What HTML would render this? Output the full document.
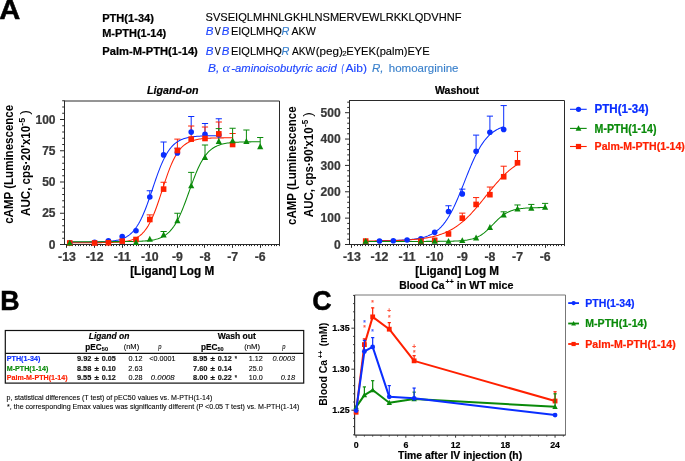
<!DOCTYPE html>
<html><head><meta charset="utf-8"><style>
html,body{margin:0;padding:0;background:#fff;}
svg{display:block;will-change:transform;}
text{font-family:"Liberation Sans", sans-serif;}
</style></head><body>
<svg width="685" height="461" viewBox="0 0 685 461">
<rect width="685" height="461" fill="#fff"/>
<g font-family="Liberation Sans, sans-serif">
<text x="-0.73" y="19.2" font-size="27.5" font-weight="bold" font-style="normal" fill="#000" text-anchor="start" textLength="21.02" lengthAdjust="spacingAndGlyphs" stroke="#000" stroke-width="0.550" >A</text>
<text x="102.18" y="21.7" font-size="11.3" font-weight="bold" font-style="normal" fill="#000" text-anchor="start" textLength="51.75" lengthAdjust="spacingAndGlyphs" stroke="#000" stroke-width="0.226" >PTH(1-34)</text>
<text x="102.19" y="37" font-size="11.3" font-weight="bold" font-style="normal" fill="#000" text-anchor="start" textLength="64.05" lengthAdjust="spacingAndGlyphs" stroke="#000" stroke-width="0.226" >M-PTH(1-14)</text>
<text x="102.37" y="54.5" font-size="11.3" font-weight="bold" font-style="normal" fill="#000" text-anchor="start" textLength="95.45" lengthAdjust="spacingAndGlyphs" stroke="#000" stroke-width="0.226" >Palm-M-PTH(1-14)</text>
<text x="205.5" y="20.6" font-size="10.6" font-weight="normal" font-style="normal" fill="#000" text-anchor="start" textLength="255.93" lengthAdjust="spacingAndGlyphs" stroke="#000" stroke-width="0.127" >SVSEIQLMHNLGKHLNSMERVEWLRKKLQDVHNF</text>
<text x="205.65" y="34.7" font-size="10.6" font-weight="normal" font-style="italic" fill="#1e46ff" text-anchor="start" textLength="7.72" lengthAdjust="spacingAndGlyphs" stroke="#1e46ff" stroke-width="0.127" >B</text>
<text x="214.75" y="34.7" font-size="10.6" font-weight="normal" font-style="normal" fill="#000" text-anchor="start" textLength="6.01" lengthAdjust="spacingAndGlyphs" stroke="#000" stroke-width="0.127" >V</text>
<text x="221.86" y="34.7" font-size="10.6" font-weight="normal" font-style="italic" fill="#1e46ff" text-anchor="start" textLength="7.61" lengthAdjust="spacingAndGlyphs" stroke="#1e46ff" stroke-width="0.127" >B</text>
<text x="230.92" y="34.7" font-size="10.6" font-weight="normal" font-style="normal" fill="#000" text-anchor="start" textLength="51.0" lengthAdjust="spacingAndGlyphs" stroke="#000" stroke-width="0.127" >EIQLMHQ</text>
<text x="281.47" y="34.7" font-size="10.6" font-weight="normal" font-style="italic" fill="#3a80cc" text-anchor="start" textLength="7.88" lengthAdjust="spacingAndGlyphs" stroke="#3a80cc" stroke-width="0.127" >R</text>
<text x="291.5" y="34.7" font-size="10.6" font-weight="normal" font-style="normal" fill="#000" text-anchor="start" textLength="24.23" lengthAdjust="spacingAndGlyphs" stroke="#000" stroke-width="0.127" >AKW</text>
<text x="205.65" y="54.5" font-size="10.6" font-weight="normal" font-style="italic" fill="#1e46ff" text-anchor="start" textLength="7.72" lengthAdjust="spacingAndGlyphs" stroke="#1e46ff" stroke-width="0.127" >B</text>
<text x="214.75" y="54.5" font-size="10.6" font-weight="normal" font-style="normal" fill="#000" text-anchor="start" textLength="6.01" lengthAdjust="spacingAndGlyphs" stroke="#000" stroke-width="0.127" >V</text>
<text x="221.86" y="54.5" font-size="10.6" font-weight="normal" font-style="italic" fill="#1e46ff" text-anchor="start" textLength="7.61" lengthAdjust="spacingAndGlyphs" stroke="#1e46ff" stroke-width="0.127" >B</text>
<text x="230.92" y="54.5" font-size="10.6" font-weight="normal" font-style="normal" fill="#000" text-anchor="start" textLength="51.0" lengthAdjust="spacingAndGlyphs" stroke="#000" stroke-width="0.127" >EIQLMHQ</text>
<text x="281.47" y="54.5" font-size="10.6" font-weight="normal" font-style="italic" fill="#3a80cc" text-anchor="start" textLength="7.88" lengthAdjust="spacingAndGlyphs" stroke="#3a80cc" stroke-width="0.127" >R</text>
<text x="291.9" y="54.5" font-size="10.6" font-weight="normal" font-style="normal" fill="#000" text-anchor="start" textLength="23.23" lengthAdjust="spacingAndGlyphs" stroke="#000" stroke-width="0.127" >AKW</text>
<text x="315.7" y="54.5" font-size="10.6" font-weight="normal" font-style="normal" fill="#000" text-anchor="start" textLength="27.25" lengthAdjust="spacingAndGlyphs" stroke="#000" stroke-width="0.127" >(peg)</text>
<text x="342.2" y="56.3" font-size="7" font-weight="normal" font-style="normal" fill="#000" text-anchor="start" textLength="4.4" lengthAdjust="spacingAndGlyphs" stroke="#000" stroke-width="0.084" >2</text>
<text x="346.31" y="54.5" font-size="10.6" font-weight="normal" font-style="normal" fill="#000" text-anchor="start" textLength="83.37" lengthAdjust="spacingAndGlyphs" stroke="#000" stroke-width="0.127" >EYEK(palm)EYE</text>
<text x="208.14" y="71.7" font-size="10.6" font-weight="normal" font-style="italic" fill="#1e46ff" text-anchor="start" textLength="11.29" lengthAdjust="spacingAndGlyphs" stroke="#1e46ff" stroke-width="0.127" >B,</text>
<text x="222.6" y="71.7" font-size="11.5" font-style="italic" style="font-family:'Liberation Serif',serif" fill="#1e46ff" textLength="7.6" lengthAdjust="spacingAndGlyphs">α</text>
<text x="231.34" y="71.7" font-size="10.6" font-weight="normal" font-style="italic" fill="#1e46ff" text-anchor="start" textLength="105.36" lengthAdjust="spacingAndGlyphs" stroke="#1e46ff" stroke-width="0.127" >-aminoisobutyric acid</text>
<text x="341.4" y="71.7" font-size="10.6" font-weight="normal" font-style="italic" fill="#1e46ff" text-anchor="start" textLength="2.25" lengthAdjust="spacingAndGlyphs" stroke="#1e46ff" stroke-width="0.127" >(</text>
<text x="345.6" y="71.7" font-size="10.6" font-weight="normal" font-style="normal" fill="#1e46ff" text-anchor="start" textLength="21.36" lengthAdjust="spacingAndGlyphs" stroke="#1e46ff" stroke-width="0.127" >Aib)</text>
<text x="371.95" y="71.7" font-size="10.6" font-weight="normal" font-style="italic" fill="#3a80cc" text-anchor="start" textLength="11.53" lengthAdjust="spacingAndGlyphs" stroke="#3a80cc" stroke-width="0.127" >R,</text>
<text x="388.79" y="71.7" font-size="10.6" font-weight="normal" font-style="normal" fill="#3a80cc" text-anchor="start" textLength="69.72" lengthAdjust="spacingAndGlyphs" stroke="#3a80cc" stroke-width="0.127" >homoarginine</text>
<line x1="64.5" y1="101" x2="279.5" y2="101" stroke="#2a2a2a" stroke-width="1"/>
<line x1="279.5" y1="101" x2="279.5" y2="244.5" stroke="#2a2a2a" stroke-width="1"/>
<line x1="64.5" y1="100.5" x2="64.5" y2="244.5" stroke="#2a2a2a" stroke-width="1"/>
<line x1="60" y1="244.5" x2="280" y2="244.5" stroke="#2a2a2a" stroke-width="1"/>
<line x1="60" y1="244.5" x2="64.5" y2="244.5" stroke="#2a2a2a" stroke-width="1"/>
<text x="55.5" y="248.7" font-size="12" font-weight="bold" font-style="normal" fill="#383838" text-anchor="end" stroke="#383838" stroke-width="0.240" >0</text>
<line x1="62.2" y1="238.25" x2="64.5" y2="238.25" stroke="#2a2a2a" stroke-width="1"/>
<line x1="62.2" y1="232" x2="64.5" y2="232" stroke="#2a2a2a" stroke-width="1"/>
<line x1="62.2" y1="225.75" x2="64.5" y2="225.75" stroke="#2a2a2a" stroke-width="1"/>
<line x1="62.2" y1="219.5" x2="64.5" y2="219.5" stroke="#2a2a2a" stroke-width="1"/>
<line x1="60" y1="213.25" x2="64.5" y2="213.25" stroke="#2a2a2a" stroke-width="1"/>
<text x="55.5" y="217.45" font-size="12" font-weight="bold" font-style="normal" fill="#383838" text-anchor="end" stroke="#383838" stroke-width="0.240" >25</text>
<line x1="62.2" y1="207" x2="64.5" y2="207" stroke="#2a2a2a" stroke-width="1"/>
<line x1="62.2" y1="200.75" x2="64.5" y2="200.75" stroke="#2a2a2a" stroke-width="1"/>
<line x1="62.2" y1="194.5" x2="64.5" y2="194.5" stroke="#2a2a2a" stroke-width="1"/>
<line x1="62.2" y1="188.25" x2="64.5" y2="188.25" stroke="#2a2a2a" stroke-width="1"/>
<line x1="60" y1="182" x2="64.5" y2="182" stroke="#2a2a2a" stroke-width="1"/>
<text x="55.5" y="186.2" font-size="12" font-weight="bold" font-style="normal" fill="#383838" text-anchor="end" stroke="#383838" stroke-width="0.240" >50</text>
<line x1="62.2" y1="175.75" x2="64.5" y2="175.75" stroke="#2a2a2a" stroke-width="1"/>
<line x1="62.2" y1="169.5" x2="64.5" y2="169.5" stroke="#2a2a2a" stroke-width="1"/>
<line x1="62.2" y1="163.25" x2="64.5" y2="163.25" stroke="#2a2a2a" stroke-width="1"/>
<line x1="62.2" y1="157" x2="64.5" y2="157" stroke="#2a2a2a" stroke-width="1"/>
<line x1="60" y1="150.75" x2="64.5" y2="150.75" stroke="#2a2a2a" stroke-width="1"/>
<text x="55.5" y="154.95" font-size="12" font-weight="bold" font-style="normal" fill="#383838" text-anchor="end" stroke="#383838" stroke-width="0.240" >75</text>
<line x1="62.2" y1="144.5" x2="64.5" y2="144.5" stroke="#2a2a2a" stroke-width="1"/>
<line x1="62.2" y1="138.25" x2="64.5" y2="138.25" stroke="#2a2a2a" stroke-width="1"/>
<line x1="62.2" y1="132" x2="64.5" y2="132" stroke="#2a2a2a" stroke-width="1"/>
<line x1="62.2" y1="125.75" x2="64.5" y2="125.75" stroke="#2a2a2a" stroke-width="1"/>
<line x1="60" y1="119.5" x2="64.5" y2="119.5" stroke="#2a2a2a" stroke-width="1"/>
<text x="55.5" y="123.7" font-size="12" font-weight="bold" font-style="normal" fill="#383838" text-anchor="end" stroke="#383838" stroke-width="0.240" >100</text>
<line x1="62.2" y1="113.25" x2="64.5" y2="113.25" stroke="#2a2a2a" stroke-width="1"/>
<line x1="62.2" y1="107" x2="64.5" y2="107" stroke="#2a2a2a" stroke-width="1"/>
<line x1="62.2" y1="100.75" x2="64.5" y2="100.75" stroke="#2a2a2a" stroke-width="1"/>
<line x1="66.5" y1="244.5" x2="66.5" y2="247.8" stroke="#2a2a2a" stroke-width="1"/>
<text x="67" y="260.9" font-size="12.3" font-weight="bold" font-style="normal" fill="#383838" text-anchor="middle" stroke="#383838" stroke-width="0.246" >-13</text>
<line x1="69.5" y1="244.5" x2="69.5" y2="246.1" stroke="#2a2a2a" stroke-width="1"/>
<line x1="72.5" y1="244.5" x2="72.5" y2="246.1" stroke="#2a2a2a" stroke-width="1"/>
<line x1="75.5" y1="244.5" x2="75.5" y2="246.1" stroke="#2a2a2a" stroke-width="1"/>
<line x1="78.5" y1="244.5" x2="78.5" y2="246.1" stroke="#2a2a2a" stroke-width="1"/>
<line x1="80.5" y1="244.5" x2="80.5" y2="246.1" stroke="#2a2a2a" stroke-width="1"/>
<line x1="83.5" y1="244.5" x2="83.5" y2="246.1" stroke="#2a2a2a" stroke-width="1"/>
<line x1="86.5" y1="244.5" x2="86.5" y2="246.1" stroke="#2a2a2a" stroke-width="1"/>
<line x1="89.5" y1="244.5" x2="89.5" y2="246.1" stroke="#2a2a2a" stroke-width="1"/>
<line x1="91.5" y1="244.5" x2="91.5" y2="246.1" stroke="#2a2a2a" stroke-width="1"/>
<line x1="94.5" y1="244.5" x2="94.5" y2="247.8" stroke="#2a2a2a" stroke-width="1"/>
<text x="94.6" y="260.9" font-size="12.3" font-weight="bold" font-style="normal" fill="#383838" text-anchor="middle" stroke="#383838" stroke-width="0.246" >-12</text>
<line x1="97.5" y1="244.5" x2="97.5" y2="246.1" stroke="#2a2a2a" stroke-width="1"/>
<line x1="100.5" y1="244.5" x2="100.5" y2="246.1" stroke="#2a2a2a" stroke-width="1"/>
<line x1="102.5" y1="244.5" x2="102.5" y2="246.1" stroke="#2a2a2a" stroke-width="1"/>
<line x1="105.5" y1="244.5" x2="105.5" y2="246.1" stroke="#2a2a2a" stroke-width="1"/>
<line x1="108.5" y1="244.5" x2="108.5" y2="246.1" stroke="#2a2a2a" stroke-width="1"/>
<line x1="111.5" y1="244.5" x2="111.5" y2="246.1" stroke="#2a2a2a" stroke-width="1"/>
<line x1="113.5" y1="244.5" x2="113.5" y2="246.1" stroke="#2a2a2a" stroke-width="1"/>
<line x1="116.5" y1="244.5" x2="116.5" y2="246.1" stroke="#2a2a2a" stroke-width="1"/>
<line x1="119.5" y1="244.5" x2="119.5" y2="246.1" stroke="#2a2a2a" stroke-width="1"/>
<line x1="122.5" y1="244.5" x2="122.5" y2="247.8" stroke="#2a2a2a" stroke-width="1"/>
<text x="122.2" y="260.9" font-size="12.3" font-weight="bold" font-style="normal" fill="#383838" text-anchor="middle" stroke="#383838" stroke-width="0.246" >-11</text>
<line x1="124.5" y1="244.5" x2="124.5" y2="246.1" stroke="#2a2a2a" stroke-width="1"/>
<line x1="127.5" y1="244.5" x2="127.5" y2="246.1" stroke="#2a2a2a" stroke-width="1"/>
<line x1="130.5" y1="244.5" x2="130.5" y2="246.1" stroke="#2a2a2a" stroke-width="1"/>
<line x1="133.5" y1="244.5" x2="133.5" y2="246.1" stroke="#2a2a2a" stroke-width="1"/>
<line x1="136.5" y1="244.5" x2="136.5" y2="246.1" stroke="#2a2a2a" stroke-width="1"/>
<line x1="138.5" y1="244.5" x2="138.5" y2="246.1" stroke="#2a2a2a" stroke-width="1"/>
<line x1="141.5" y1="244.5" x2="141.5" y2="246.1" stroke="#2a2a2a" stroke-width="1"/>
<line x1="144.5" y1="244.5" x2="144.5" y2="246.1" stroke="#2a2a2a" stroke-width="1"/>
<line x1="147.5" y1="244.5" x2="147.5" y2="246.1" stroke="#2a2a2a" stroke-width="1"/>
<line x1="149.5" y1="244.5" x2="149.5" y2="247.8" stroke="#2a2a2a" stroke-width="1"/>
<text x="149.8" y="260.9" font-size="12.3" font-weight="bold" font-style="normal" fill="#383838" text-anchor="middle" stroke="#383838" stroke-width="0.246" >-10</text>
<line x1="152.5" y1="244.5" x2="152.5" y2="246.1" stroke="#2a2a2a" stroke-width="1"/>
<line x1="155.5" y1="244.5" x2="155.5" y2="246.1" stroke="#2a2a2a" stroke-width="1"/>
<line x1="158.5" y1="244.5" x2="158.5" y2="246.1" stroke="#2a2a2a" stroke-width="1"/>
<line x1="160.5" y1="244.5" x2="160.5" y2="246.1" stroke="#2a2a2a" stroke-width="1"/>
<line x1="163.5" y1="244.5" x2="163.5" y2="246.1" stroke="#2a2a2a" stroke-width="1"/>
<line x1="166.5" y1="244.5" x2="166.5" y2="246.1" stroke="#2a2a2a" stroke-width="1"/>
<line x1="169.5" y1="244.5" x2="169.5" y2="246.1" stroke="#2a2a2a" stroke-width="1"/>
<line x1="171.5" y1="244.5" x2="171.5" y2="246.1" stroke="#2a2a2a" stroke-width="1"/>
<line x1="174.5" y1="244.5" x2="174.5" y2="246.1" stroke="#2a2a2a" stroke-width="1"/>
<line x1="177.5" y1="244.5" x2="177.5" y2="247.8" stroke="#2a2a2a" stroke-width="1"/>
<text x="177.4" y="260.9" font-size="12.3" font-weight="bold" font-style="normal" fill="#383838" text-anchor="middle" stroke="#383838" stroke-width="0.246" >-9</text>
<line x1="180.5" y1="244.5" x2="180.5" y2="246.1" stroke="#2a2a2a" stroke-width="1"/>
<line x1="182.5" y1="244.5" x2="182.5" y2="246.1" stroke="#2a2a2a" stroke-width="1"/>
<line x1="185.5" y1="244.5" x2="185.5" y2="246.1" stroke="#2a2a2a" stroke-width="1"/>
<line x1="188.5" y1="244.5" x2="188.5" y2="246.1" stroke="#2a2a2a" stroke-width="1"/>
<line x1="191.5" y1="244.5" x2="191.5" y2="246.1" stroke="#2a2a2a" stroke-width="1"/>
<line x1="193.5" y1="244.5" x2="193.5" y2="246.1" stroke="#2a2a2a" stroke-width="1"/>
<line x1="196.5" y1="244.5" x2="196.5" y2="246.1" stroke="#2a2a2a" stroke-width="1"/>
<line x1="199.5" y1="244.5" x2="199.5" y2="246.1" stroke="#2a2a2a" stroke-width="1"/>
<line x1="202.5" y1="244.5" x2="202.5" y2="246.1" stroke="#2a2a2a" stroke-width="1"/>
<line x1="204.5" y1="244.5" x2="204.5" y2="247.8" stroke="#2a2a2a" stroke-width="1"/>
<text x="205" y="260.9" font-size="12.3" font-weight="bold" font-style="normal" fill="#383838" text-anchor="middle" stroke="#383838" stroke-width="0.246" >-8</text>
<line x1="207.5" y1="244.5" x2="207.5" y2="246.1" stroke="#2a2a2a" stroke-width="1"/>
<line x1="210.5" y1="244.5" x2="210.5" y2="246.1" stroke="#2a2a2a" stroke-width="1"/>
<line x1="213.5" y1="244.5" x2="213.5" y2="246.1" stroke="#2a2a2a" stroke-width="1"/>
<line x1="216.5" y1="244.5" x2="216.5" y2="246.1" stroke="#2a2a2a" stroke-width="1"/>
<line x1="218.5" y1="244.5" x2="218.5" y2="246.1" stroke="#2a2a2a" stroke-width="1"/>
<line x1="221.5" y1="244.5" x2="221.5" y2="246.1" stroke="#2a2a2a" stroke-width="1"/>
<line x1="224.5" y1="244.5" x2="224.5" y2="246.1" stroke="#2a2a2a" stroke-width="1"/>
<line x1="227.5" y1="244.5" x2="227.5" y2="246.1" stroke="#2a2a2a" stroke-width="1"/>
<line x1="229.5" y1="244.5" x2="229.5" y2="246.1" stroke="#2a2a2a" stroke-width="1"/>
<line x1="232.5" y1="244.5" x2="232.5" y2="247.8" stroke="#2a2a2a" stroke-width="1"/>
<text x="232.6" y="260.9" font-size="12.3" font-weight="bold" font-style="normal" fill="#383838" text-anchor="middle" stroke="#383838" stroke-width="0.246" >-7</text>
<line x1="235.5" y1="244.5" x2="235.5" y2="246.1" stroke="#2a2a2a" stroke-width="1"/>
<line x1="238.5" y1="244.5" x2="238.5" y2="246.1" stroke="#2a2a2a" stroke-width="1"/>
<line x1="240.5" y1="244.5" x2="240.5" y2="246.1" stroke="#2a2a2a" stroke-width="1"/>
<line x1="243.5" y1="244.5" x2="243.5" y2="246.1" stroke="#2a2a2a" stroke-width="1"/>
<line x1="246.5" y1="244.5" x2="246.5" y2="246.1" stroke="#2a2a2a" stroke-width="1"/>
<line x1="249.5" y1="244.5" x2="249.5" y2="246.1" stroke="#2a2a2a" stroke-width="1"/>
<line x1="251.5" y1="244.5" x2="251.5" y2="246.1" stroke="#2a2a2a" stroke-width="1"/>
<line x1="254.5" y1="244.5" x2="254.5" y2="246.1" stroke="#2a2a2a" stroke-width="1"/>
<line x1="257.5" y1="244.5" x2="257.5" y2="246.1" stroke="#2a2a2a" stroke-width="1"/>
<line x1="260.5" y1="244.5" x2="260.5" y2="247.8" stroke="#2a2a2a" stroke-width="1"/>
<text x="260.2" y="260.9" font-size="12.3" font-weight="bold" font-style="normal" fill="#383838" text-anchor="middle" stroke="#383838" stroke-width="0.246" >-6</text>
<line x1="262.5" y1="244.5" x2="262.5" y2="246.1" stroke="#2a2a2a" stroke-width="1"/>
<line x1="265.5" y1="244.5" x2="265.5" y2="246.1" stroke="#2a2a2a" stroke-width="1"/>
<line x1="268.5" y1="244.5" x2="268.5" y2="246.1" stroke="#2a2a2a" stroke-width="1"/>
<line x1="271.5" y1="244.5" x2="271.5" y2="246.1" stroke="#2a2a2a" stroke-width="1"/>
<line x1="274.5" y1="244.5" x2="274.5" y2="246.1" stroke="#2a2a2a" stroke-width="1"/>
<line x1="276.5" y1="244.5" x2="276.5" y2="246.1" stroke="#2a2a2a" stroke-width="1"/>
<line x1="279.5" y1="244.5" x2="279.5" y2="246.1" stroke="#2a2a2a" stroke-width="1"/>
<text x="130.15" y="274.6" font-size="12.3" font-weight="bold" font-style="normal" fill="#000" text-anchor="start" textLength="84.06" lengthAdjust="spacingAndGlyphs" stroke="#000" stroke-width="0.246" >[Ligand] Log M</text>
<text x="146.99" y="93.5" font-size="11.2" font-weight="bold" font-style="italic" fill="#000" text-anchor="start" textLength="51.46" lengthAdjust="spacingAndGlyphs" stroke="#000" stroke-width="0.224" >Ligand-on</text>
<text transform="translate(13,223.4) rotate(-90)" x="-0.46" y="0" font-size="12.3" font-weight="bold" font-style="normal" fill="#000" textLength="119.05" lengthAdjust="spacingAndGlyphs">cAMP (Luminescence</text>
<text transform="translate(29.9,215.6) rotate(-90)" x="-0.29" y="0" font-size="12.3" font-weight="bold" font-style="normal" fill="#000" textLength="90.08" lengthAdjust="spacingAndGlyphs">AUC, cps·20&#x27;x10</text>
<text transform="translate(24.7,125.4) rotate(-90)" x="-0.36" y="0" font-size="8.5" font-weight="bold" font-style="normal" fill="#000" textLength="7.98" lengthAdjust="spacingAndGlyphs">-5</text>
<text transform="translate(29.3,114.7) rotate(-90)" x="-0.07" y="0" font-size="12.3" font-weight="normal" font-style="normal" fill="#000" textLength="4.65" lengthAdjust="spacingAndGlyphs">)</text>
<line x1="149.8" y1="197" x2="149.8" y2="190.75" stroke="#0a2eff" stroke-width="1"/>
<line x1="146.7" y1="190.75" x2="152.9" y2="190.75" stroke="#0a2eff" stroke-width="1"/>
<line x1="163.6" y1="154.88" x2="163.6" y2="142" stroke="#0a2eff" stroke-width="1"/>
<line x1="160.5" y1="142" x2="166.7" y2="142" stroke="#0a2eff" stroke-width="1"/>
<line x1="177.4" y1="152.88" x2="177.4" y2="148.25" stroke="#0a2eff" stroke-width="1"/>
<line x1="174.3" y1="148.25" x2="180.5" y2="148.25" stroke="#0a2eff" stroke-width="1"/>
<line x1="191.2" y1="132.12" x2="191.2" y2="116.5" stroke="#0a2eff" stroke-width="1"/>
<line x1="188.1" y1="116.5" x2="194.3" y2="116.5" stroke="#0a2eff" stroke-width="1"/>
<line x1="205" y1="134.25" x2="205" y2="123.5" stroke="#0a2eff" stroke-width="1"/>
<line x1="201.9" y1="123.5" x2="208.1" y2="123.5" stroke="#0a2eff" stroke-width="1"/>
<line x1="218.8" y1="135" x2="218.8" y2="118.75" stroke="#0a2eff" stroke-width="1"/>
<line x1="215.7" y1="118.75" x2="221.9" y2="118.75" stroke="#0a2eff" stroke-width="1"/>
<line x1="149.8" y1="219.5" x2="149.8" y2="214.88" stroke="#ff2000" stroke-width="1"/>
<line x1="146.7" y1="214.88" x2="152.9" y2="214.88" stroke="#ff2000" stroke-width="1"/>
<line x1="163.6" y1="189.12" x2="163.6" y2="182.25" stroke="#ff2000" stroke-width="1"/>
<line x1="160.5" y1="182.25" x2="166.7" y2="182.25" stroke="#ff2000" stroke-width="1"/>
<line x1="177.4" y1="150.5" x2="177.4" y2="139.12" stroke="#ff2000" stroke-width="1"/>
<line x1="174.3" y1="139.12" x2="180.5" y2="139.12" stroke="#ff2000" stroke-width="1"/>
<line x1="191.2" y1="139.12" x2="191.2" y2="126" stroke="#ff2000" stroke-width="1"/>
<line x1="188.1" y1="126" x2="194.3" y2="126" stroke="#ff2000" stroke-width="1"/>
<line x1="205" y1="138.5" x2="205" y2="127" stroke="#ff2000" stroke-width="1"/>
<line x1="201.9" y1="127" x2="208.1" y2="127" stroke="#ff2000" stroke-width="1"/>
<line x1="218.8" y1="133.88" x2="218.8" y2="122" stroke="#ff2000" stroke-width="1"/>
<line x1="215.7" y1="122" x2="221.9" y2="122" stroke="#ff2000" stroke-width="1"/>
<line x1="232.6" y1="144.5" x2="232.6" y2="133.5" stroke="#ff2000" stroke-width="1"/>
<line x1="229.5" y1="133.5" x2="235.7" y2="133.5" stroke="#ff2000" stroke-width="1"/>
<line x1="163.6" y1="234.88" x2="163.6" y2="231.5" stroke="#0a8a0a" stroke-width="1"/>
<line x1="160.5" y1="231.5" x2="166.7" y2="231.5" stroke="#0a8a0a" stroke-width="1"/>
<line x1="177.4" y1="220.75" x2="177.4" y2="213.25" stroke="#0a8a0a" stroke-width="1"/>
<line x1="174.3" y1="213.25" x2="180.5" y2="213.25" stroke="#0a8a0a" stroke-width="1"/>
<line x1="191.2" y1="185.75" x2="191.2" y2="172.38" stroke="#0a8a0a" stroke-width="1"/>
<line x1="188.1" y1="172.38" x2="194.3" y2="172.38" stroke="#0a8a0a" stroke-width="1"/>
<line x1="205" y1="157.38" x2="205" y2="145" stroke="#0a8a0a" stroke-width="1"/>
<line x1="201.9" y1="145" x2="208.1" y2="145" stroke="#0a8a0a" stroke-width="1"/>
<line x1="218.8" y1="141.38" x2="218.8" y2="128.62" stroke="#0a8a0a" stroke-width="1"/>
<line x1="215.7" y1="128.62" x2="221.9" y2="128.62" stroke="#0a8a0a" stroke-width="1"/>
<line x1="232.6" y1="140.75" x2="232.6" y2="128.25" stroke="#0a8a0a" stroke-width="1"/>
<line x1="229.5" y1="128.25" x2="235.7" y2="128.25" stroke="#0a8a0a" stroke-width="1"/>
<line x1="246.4" y1="141.38" x2="246.4" y2="130" stroke="#0a8a0a" stroke-width="1"/>
<line x1="243.3" y1="130" x2="249.5" y2="130" stroke="#0a8a0a" stroke-width="1"/>
<line x1="260.2" y1="146.62" x2="260.2" y2="137.5" stroke="#0a8a0a" stroke-width="1"/>
<line x1="257.1" y1="137.5" x2="263.3" y2="137.5" stroke="#0a8a0a" stroke-width="1"/>
<polyline points="67.00,242.23 67.95,242.22 68.91,242.22 69.86,242.22 70.82,242.22 71.77,242.22 72.73,242.22 73.68,242.22 74.64,242.22 75.59,242.21 76.55,242.21 77.50,242.21 78.46,242.21 79.41,242.20 80.37,242.20 81.32,242.20 82.28,242.19 83.23,242.19 84.18,242.18 85.14,242.18 86.09,242.17 87.05,242.16 88.00,242.16 88.96,242.15 89.91,242.14 90.87,242.13 91.82,242.11 92.78,242.10 93.73,242.09 94.69,242.07 95.64,242.05 96.60,242.03 97.55,242.01 98.51,241.98 99.46,241.95 100.42,241.92 101.37,241.89 102.32,241.85 103.28,241.81 104.23,241.76 105.19,241.71 106.14,241.65 107.10,241.58 108.05,241.51 109.01,241.43 109.96,241.34 110.92,241.24 111.87,241.12 112.83,241.00 113.78,240.86 114.74,240.71 115.69,240.54 116.65,240.35 117.60,240.15 118.55,239.91 119.51,239.66 120.46,239.38 121.42,239.06 122.37,238.72 123.33,238.34 124.28,237.91 125.24,237.45 126.19,236.93 127.15,236.37 128.10,235.75 129.06,235.06 130.01,234.31 130.97,233.49 131.92,232.60 132.88,231.62 133.83,230.55 134.78,229.39 135.74,228.13 136.69,226.77 137.65,225.30 138.60,223.72 139.56,222.03 140.51,220.22 141.47,218.29 142.42,216.24 143.38,214.08 144.33,211.81 145.29,209.43 146.24,206.96 147.20,204.39 148.15,201.74 149.11,199.02 150.06,196.24 151.02,193.43 151.97,190.59 152.92,187.74 153.88,184.89 154.83,182.07 155.79,179.29 156.74,176.56 157.70,173.90 158.65,171.31 159.61,168.82 160.56,166.43 161.52,164.14 162.47,161.96 163.43,159.89 164.38,157.95 165.34,156.12 166.29,154.40 167.25,152.80 168.20,151.32 169.15,149.94 170.11,148.66 171.06,147.49 172.02,146.40 172.97,145.41 173.93,144.50 174.88,143.67 175.84,142.90 176.79,142.21 177.75,141.58 178.70,141.00 179.66,140.48 180.61,140.01 181.57,139.58 182.52,139.19 183.48,138.84 184.43,138.52 185.38,138.23 186.34,137.97 187.29,137.74 188.25,137.53 189.20,137.34 190.16,137.16 191.11,137.01 192.07,136.87 193.02,136.74 193.98,136.63 194.93,136.53 195.89,136.44 196.84,136.35 197.80,136.28 198.75,136.21 199.71,136.15 200.66,136.10 201.62,136.05 202.57,136.00 203.52,135.97 204.48,135.93 205.43,135.90 206.39,135.87 207.34,135.84 208.30,135.82 209.25,135.80 210.21,135.78 211.16,135.76 212.12,135.75 213.07,135.74 214.03,135.72 214.98,135.71 215.94,135.70 216.89,135.69 217.85,135.69 218.80,135.68" fill="none" stroke="#0a2eff" stroke-width="1.05"/>
<polyline points="67.00,242.69 68.04,242.69 69.08,242.69 70.12,242.69 71.17,242.69 72.21,242.69 73.25,242.69 74.29,242.68 75.33,242.68 76.37,242.68 77.42,242.68 78.46,242.68 79.50,242.68 80.54,242.68 81.58,242.68 82.62,242.68 83.66,242.68 84.71,242.68 85.75,242.68 86.79,242.67 87.83,242.67 88.87,242.67 89.91,242.67 90.95,242.66 92.00,242.66 93.04,242.66 94.08,242.65 95.12,242.65 96.16,242.64 97.20,242.64 98.25,242.63 99.29,242.62 100.33,242.62 101.37,242.61 102.41,242.60 103.45,242.58 104.49,242.57 105.54,242.56 106.58,242.54 107.62,242.52 108.66,242.50 109.70,242.47 110.74,242.44 111.78,242.41 112.83,242.37 113.87,242.33 114.91,242.29 115.95,242.24 116.99,242.18 118.03,242.11 119.08,242.04 120.12,241.95 121.16,241.86 122.20,241.75 123.24,241.63 124.28,241.49 125.32,241.34 126.37,241.16 127.41,240.97 128.45,240.75 129.49,240.50 130.53,240.22 131.57,239.91 132.62,239.55 133.66,239.16 134.70,238.72 135.74,238.22 136.78,237.67 137.82,237.05 138.86,236.35 139.91,235.58 140.95,234.73 141.99,233.78 143.03,232.73 144.07,231.56 145.11,230.28 146.15,228.88 147.20,227.34 148.24,225.67 149.28,223.85 150.32,221.88 151.36,219.75 152.40,217.48 153.45,215.06 154.49,212.49 155.53,209.79 156.57,206.96 157.61,204.02 158.65,200.98 159.69,197.87 160.74,194.70 161.78,191.49 162.82,188.28 163.86,185.08 164.90,181.92 165.94,178.82 166.98,175.80 168.03,172.88 169.07,170.08 170.11,167.40 171.15,164.87 172.19,162.48 173.23,160.24 174.28,158.15 175.32,156.21 176.36,154.42 177.40,152.78 178.44,151.27 179.48,149.89 180.52,148.64 181.57,147.50 182.61,146.47 183.65,145.55 184.69,144.71 185.73,143.96 186.77,143.28 187.82,142.68 188.86,142.13 189.90,141.65 190.94,141.22 191.98,140.83 193.02,140.49 194.06,140.19 195.11,139.91 196.15,139.67 197.19,139.46 198.23,139.27 199.27,139.10 200.31,138.95 201.35,138.81 202.40,138.70 203.44,138.59 204.48,138.50 205.52,138.42 206.56,138.34 207.60,138.28 208.65,138.22 209.69,138.17 210.73,138.12 211.77,138.09 212.81,138.05 213.85,138.02 214.89,137.99 215.94,137.97 216.98,137.95 218.02,137.93 219.06,137.91 220.10,137.89 221.14,137.88 222.18,137.87 223.23,137.86 224.27,137.85 225.31,137.84 226.35,137.83 227.39,137.83 228.43,137.82 229.48,137.82 230.52,137.81 231.56,137.81 232.60,137.81" fill="none" stroke="#ff2000" stroke-width="1.05"/>
<polyline points="67.00,241.66 68.22,241.66 69.43,241.66 70.65,241.66 71.86,241.66 73.08,241.66 74.29,241.66 75.51,241.66 76.72,241.66 77.94,241.66 79.15,241.66 80.37,241.66 81.58,241.66 82.80,241.66 84.01,241.66 85.23,241.66 86.44,241.66 87.66,241.66 88.87,241.66 90.09,241.66 91.30,241.66 92.52,241.66 93.73,241.66 94.95,241.66 96.16,241.66 97.38,241.66 98.59,241.66 99.81,241.66 101.02,241.66 102.24,241.66 103.45,241.66 104.67,241.66 105.88,241.65 107.10,241.65 108.31,241.65 109.53,241.65 110.74,241.65 111.96,241.65 113.17,241.64 114.39,241.64 115.60,241.64 116.82,241.63 118.03,241.63 119.25,241.62 120.46,241.62 121.68,241.61 122.89,241.60 124.11,241.60 125.32,241.59 126.54,241.57 127.75,241.56 128.97,241.55 130.18,241.53 131.40,241.51 132.62,241.49 133.83,241.46 135.05,241.43 136.26,241.40 137.48,241.36 138.69,241.32 139.91,241.26 141.12,241.21 142.34,241.14 143.55,241.06 144.77,240.98 145.98,240.88 147.20,240.76 148.41,240.63 149.63,240.48 150.84,240.31 152.06,240.12 153.27,239.90 154.49,239.65 155.70,239.36 156.92,239.03 158.13,238.66 159.35,238.23 160.56,237.75 161.78,237.20 162.99,236.59 164.21,235.89 165.42,235.10 166.64,234.21 167.85,233.21 169.07,232.09 170.28,230.85 171.50,229.46 172.71,227.92 173.93,226.22 175.14,224.35 176.36,222.31 177.57,220.09 178.79,217.70 180.00,215.12 181.22,212.38 182.43,209.48 183.65,206.43 184.86,203.26 186.08,199.99 187.29,196.64 188.51,193.25 189.72,189.84 190.94,186.45 192.15,183.11 193.37,179.85 194.58,176.69 195.80,173.66 197.02,170.77 198.23,168.04 199.45,165.49 200.66,163.11 201.88,160.91 203.09,158.88 204.31,157.03 205.52,155.35 206.74,153.82 207.95,152.45 209.17,151.22 210.38,150.11 211.60,149.12 212.81,148.25 214.03,147.47 215.24,146.77 216.46,146.16 217.67,145.62 218.89,145.15 220.10,144.73 221.32,144.36 222.53,144.03 223.75,143.75 224.96,143.50 226.18,143.28 227.39,143.09 228.61,142.92 229.82,142.78 231.04,142.65 232.25,142.53 233.47,142.44 234.68,142.35 235.90,142.28 237.11,142.21 238.33,142.15 239.54,142.10 240.76,142.06 241.97,142.02 243.19,141.99 244.40,141.96 245.62,141.93 246.83,141.91 248.05,141.89 249.26,141.87 250.48,141.86 251.69,141.85 252.91,141.84 254.12,141.83 255.34,141.82 256.55,141.81 257.77,141.80 258.98,141.80 260.20,141.79" fill="none" stroke="#0a8a0a" stroke-width="1.05"/>
<circle cx="69.76" cy="242.75" r="2.8" fill="#0a2eff"/>
<circle cx="94.6" cy="242.38" r="2.8" fill="#0a2eff"/>
<circle cx="108.4" cy="240.75" r="2.8" fill="#0a2eff"/>
<circle cx="122.2" cy="236.5" r="2.8" fill="#0a2eff"/>
<circle cx="136" cy="230.75" r="2.8" fill="#0a2eff"/>
<circle cx="149.8" cy="197" r="2.8" fill="#0a2eff"/>
<circle cx="163.6" cy="154.88" r="2.8" fill="#0a2eff"/>
<circle cx="177.4" cy="152.88" r="2.8" fill="#0a2eff"/>
<circle cx="191.2" cy="132.12" r="2.8" fill="#0a2eff"/>
<circle cx="205" cy="134.25" r="2.8" fill="#0a2eff"/>
<circle cx="218.8" cy="135" r="2.8" fill="#0a2eff"/>
<rect x="66.96" y="240.2" width="5.6" height="5.6" fill="#ff2000"/>
<rect x="91.8" y="240.2" width="5.6" height="5.6" fill="#ff2000"/>
<rect x="105.6" y="239.95" width="5.6" height="5.6" fill="#ff2000"/>
<rect x="119.4" y="238.32" width="5.6" height="5.6" fill="#ff2000"/>
<rect x="133.2" y="236.7" width="5.6" height="5.6" fill="#ff2000"/>
<rect x="147" y="216.7" width="5.6" height="5.6" fill="#ff2000"/>
<rect x="160.8" y="186.32" width="5.6" height="5.6" fill="#ff2000"/>
<rect x="174.6" y="147.7" width="5.6" height="5.6" fill="#ff2000"/>
<rect x="188.4" y="136.32" width="5.6" height="5.6" fill="#ff2000"/>
<rect x="202.2" y="135.7" width="5.6" height="5.6" fill="#ff2000"/>
<rect x="216" y="131.07" width="5.6" height="5.6" fill="#ff2000"/>
<rect x="229.8" y="141.7" width="5.6" height="5.6" fill="#ff2000"/>
<path d="M69.76,239.64 L72.86,245.52 L66.66,245.52 Z" fill="#0a8a0a"/>
<path d="M136,239.01 L139.1,244.9 L132.9,244.9 Z" fill="#0a8a0a"/>
<path d="M149.8,235.76 L152.9,241.65 L146.7,241.65 Z" fill="#0a8a0a"/>
<path d="M163.6,231.51 L166.7,237.4 L160.5,237.4 Z" fill="#0a8a0a"/>
<path d="M177.4,217.39 L180.5,223.27 L174.3,223.27 Z" fill="#0a8a0a"/>
<path d="M191.2,182.39 L194.3,188.27 L188.1,188.27 Z" fill="#0a8a0a"/>
<path d="M205,154.01 L208.1,159.9 L201.9,159.9 Z" fill="#0a8a0a"/>
<path d="M218.8,138.01 L221.9,143.9 L215.7,143.9 Z" fill="#0a8a0a"/>
<path d="M232.6,137.39 L235.7,143.27 L229.5,143.27 Z" fill="#0a8a0a"/>
<path d="M246.4,138.01 L249.5,143.9 L243.3,143.9 Z" fill="#0a8a0a"/>
<path d="M260.2,143.26 L263.3,149.15 L257.1,149.15 Z" fill="#0a8a0a"/>
<line x1="349.5" y1="100.5" x2="564.5" y2="100.5" stroke="#2a2a2a" stroke-width="1"/>
<line x1="564.5" y1="100.5" x2="564.5" y2="244.5" stroke="#2a2a2a" stroke-width="1"/>
<line x1="349.5" y1="100" x2="349.5" y2="244.5" stroke="#2a2a2a" stroke-width="1"/>
<line x1="345" y1="244.5" x2="565" y2="244.5" stroke="#2a2a2a" stroke-width="1"/>
<line x1="345" y1="244.5" x2="349.5" y2="244.5" stroke="#2a2a2a" stroke-width="1"/>
<text x="340.6" y="248.7" font-size="12" font-weight="bold" font-style="normal" fill="#383838" text-anchor="end" stroke="#383838" stroke-width="0.240" >0</text>
<line x1="347.2" y1="239.23" x2="349.5" y2="239.23" stroke="#2a2a2a" stroke-width="1"/>
<line x1="347.2" y1="233.96" x2="349.5" y2="233.96" stroke="#2a2a2a" stroke-width="1"/>
<line x1="347.2" y1="228.68" x2="349.5" y2="228.68" stroke="#2a2a2a" stroke-width="1"/>
<line x1="347.2" y1="223.41" x2="349.5" y2="223.41" stroke="#2a2a2a" stroke-width="1"/>
<line x1="345" y1="218.14" x2="349.5" y2="218.14" stroke="#2a2a2a" stroke-width="1"/>
<text x="340.6" y="222.34" font-size="12" font-weight="bold" font-style="normal" fill="#383838" text-anchor="end" stroke="#383838" stroke-width="0.240" >100</text>
<line x1="347.2" y1="212.87" x2="349.5" y2="212.87" stroke="#2a2a2a" stroke-width="1"/>
<line x1="347.2" y1="207.6" x2="349.5" y2="207.6" stroke="#2a2a2a" stroke-width="1"/>
<line x1="347.2" y1="202.32" x2="349.5" y2="202.32" stroke="#2a2a2a" stroke-width="1"/>
<line x1="347.2" y1="197.05" x2="349.5" y2="197.05" stroke="#2a2a2a" stroke-width="1"/>
<line x1="345" y1="191.78" x2="349.5" y2="191.78" stroke="#2a2a2a" stroke-width="1"/>
<text x="340.6" y="195.98" font-size="12" font-weight="bold" font-style="normal" fill="#383838" text-anchor="end" stroke="#383838" stroke-width="0.240" >200</text>
<line x1="347.2" y1="186.51" x2="349.5" y2="186.51" stroke="#2a2a2a" stroke-width="1"/>
<line x1="347.2" y1="181.24" x2="349.5" y2="181.24" stroke="#2a2a2a" stroke-width="1"/>
<line x1="347.2" y1="175.96" x2="349.5" y2="175.96" stroke="#2a2a2a" stroke-width="1"/>
<line x1="347.2" y1="170.69" x2="349.5" y2="170.69" stroke="#2a2a2a" stroke-width="1"/>
<line x1="345" y1="165.42" x2="349.5" y2="165.42" stroke="#2a2a2a" stroke-width="1"/>
<text x="340.6" y="169.62" font-size="12" font-weight="bold" font-style="normal" fill="#383838" text-anchor="end" stroke="#383838" stroke-width="0.240" >300</text>
<line x1="347.2" y1="160.15" x2="349.5" y2="160.15" stroke="#2a2a2a" stroke-width="1"/>
<line x1="347.2" y1="154.88" x2="349.5" y2="154.88" stroke="#2a2a2a" stroke-width="1"/>
<line x1="347.2" y1="149.6" x2="349.5" y2="149.6" stroke="#2a2a2a" stroke-width="1"/>
<line x1="347.2" y1="144.33" x2="349.5" y2="144.33" stroke="#2a2a2a" stroke-width="1"/>
<line x1="345" y1="139.06" x2="349.5" y2="139.06" stroke="#2a2a2a" stroke-width="1"/>
<text x="340.6" y="143.26" font-size="12" font-weight="bold" font-style="normal" fill="#383838" text-anchor="end" stroke="#383838" stroke-width="0.240" >400</text>
<line x1="347.2" y1="133.79" x2="349.5" y2="133.79" stroke="#2a2a2a" stroke-width="1"/>
<line x1="347.2" y1="128.52" x2="349.5" y2="128.52" stroke="#2a2a2a" stroke-width="1"/>
<line x1="347.2" y1="123.24" x2="349.5" y2="123.24" stroke="#2a2a2a" stroke-width="1"/>
<line x1="347.2" y1="117.97" x2="349.5" y2="117.97" stroke="#2a2a2a" stroke-width="1"/>
<line x1="345" y1="112.7" x2="349.5" y2="112.7" stroke="#2a2a2a" stroke-width="1"/>
<text x="340.6" y="116.9" font-size="12" font-weight="bold" font-style="normal" fill="#383838" text-anchor="end" stroke="#383838" stroke-width="0.240" >500</text>
<line x1="347.2" y1="107.43" x2="349.5" y2="107.43" stroke="#2a2a2a" stroke-width="1"/>
<line x1="347.2" y1="102.16" x2="349.5" y2="102.16" stroke="#2a2a2a" stroke-width="1"/>
<line x1="351.5" y1="244.5" x2="351.5" y2="247.8" stroke="#2a2a2a" stroke-width="1"/>
<text x="351.9" y="260.9" font-size="12.3" font-weight="bold" font-style="normal" fill="#383838" text-anchor="middle" stroke="#383838" stroke-width="0.246" >-13</text>
<line x1="354.5" y1="244.5" x2="354.5" y2="246.1" stroke="#2a2a2a" stroke-width="1"/>
<line x1="357.5" y1="244.5" x2="357.5" y2="246.1" stroke="#2a2a2a" stroke-width="1"/>
<line x1="360.5" y1="244.5" x2="360.5" y2="246.1" stroke="#2a2a2a" stroke-width="1"/>
<line x1="362.5" y1="244.5" x2="362.5" y2="246.1" stroke="#2a2a2a" stroke-width="1"/>
<line x1="365.5" y1="244.5" x2="365.5" y2="246.1" stroke="#2a2a2a" stroke-width="1"/>
<line x1="368.5" y1="244.5" x2="368.5" y2="246.1" stroke="#2a2a2a" stroke-width="1"/>
<line x1="371.5" y1="244.5" x2="371.5" y2="246.1" stroke="#2a2a2a" stroke-width="1"/>
<line x1="373.5" y1="244.5" x2="373.5" y2="246.1" stroke="#2a2a2a" stroke-width="1"/>
<line x1="376.5" y1="244.5" x2="376.5" y2="246.1" stroke="#2a2a2a" stroke-width="1"/>
<line x1="379.5" y1="244.5" x2="379.5" y2="247.8" stroke="#2a2a2a" stroke-width="1"/>
<text x="379.5" y="260.9" font-size="12.3" font-weight="bold" font-style="normal" fill="#383838" text-anchor="middle" stroke="#383838" stroke-width="0.246" >-12</text>
<line x1="382.5" y1="244.5" x2="382.5" y2="246.1" stroke="#2a2a2a" stroke-width="1"/>
<line x1="385.5" y1="244.5" x2="385.5" y2="246.1" stroke="#2a2a2a" stroke-width="1"/>
<line x1="387.5" y1="244.5" x2="387.5" y2="246.1" stroke="#2a2a2a" stroke-width="1"/>
<line x1="390.5" y1="244.5" x2="390.5" y2="246.1" stroke="#2a2a2a" stroke-width="1"/>
<line x1="393.5" y1="244.5" x2="393.5" y2="246.1" stroke="#2a2a2a" stroke-width="1"/>
<line x1="396.5" y1="244.5" x2="396.5" y2="246.1" stroke="#2a2a2a" stroke-width="1"/>
<line x1="398.5" y1="244.5" x2="398.5" y2="246.1" stroke="#2a2a2a" stroke-width="1"/>
<line x1="401.5" y1="244.5" x2="401.5" y2="246.1" stroke="#2a2a2a" stroke-width="1"/>
<line x1="404.5" y1="244.5" x2="404.5" y2="246.1" stroke="#2a2a2a" stroke-width="1"/>
<line x1="407.5" y1="244.5" x2="407.5" y2="247.8" stroke="#2a2a2a" stroke-width="1"/>
<text x="407.1" y="260.9" font-size="12.3" font-weight="bold" font-style="normal" fill="#383838" text-anchor="middle" stroke="#383838" stroke-width="0.246" >-11</text>
<line x1="409.5" y1="244.5" x2="409.5" y2="246.1" stroke="#2a2a2a" stroke-width="1"/>
<line x1="412.5" y1="244.5" x2="412.5" y2="246.1" stroke="#2a2a2a" stroke-width="1"/>
<line x1="415.5" y1="244.5" x2="415.5" y2="246.1" stroke="#2a2a2a" stroke-width="1"/>
<line x1="418.5" y1="244.5" x2="418.5" y2="246.1" stroke="#2a2a2a" stroke-width="1"/>
<line x1="420.5" y1="244.5" x2="420.5" y2="246.1" stroke="#2a2a2a" stroke-width="1"/>
<line x1="423.5" y1="244.5" x2="423.5" y2="246.1" stroke="#2a2a2a" stroke-width="1"/>
<line x1="426.5" y1="244.5" x2="426.5" y2="246.1" stroke="#2a2a2a" stroke-width="1"/>
<line x1="429.5" y1="244.5" x2="429.5" y2="246.1" stroke="#2a2a2a" stroke-width="1"/>
<line x1="431.5" y1="244.5" x2="431.5" y2="246.1" stroke="#2a2a2a" stroke-width="1"/>
<line x1="434.5" y1="244.5" x2="434.5" y2="247.8" stroke="#2a2a2a" stroke-width="1"/>
<text x="434.7" y="260.9" font-size="12.3" font-weight="bold" font-style="normal" fill="#383838" text-anchor="middle" stroke="#383838" stroke-width="0.246" >-10</text>
<line x1="437.5" y1="244.5" x2="437.5" y2="246.1" stroke="#2a2a2a" stroke-width="1"/>
<line x1="440.5" y1="244.5" x2="440.5" y2="246.1" stroke="#2a2a2a" stroke-width="1"/>
<line x1="442.5" y1="244.5" x2="442.5" y2="246.1" stroke="#2a2a2a" stroke-width="1"/>
<line x1="445.5" y1="244.5" x2="445.5" y2="246.1" stroke="#2a2a2a" stroke-width="1"/>
<line x1="448.5" y1="244.5" x2="448.5" y2="246.1" stroke="#2a2a2a" stroke-width="1"/>
<line x1="451.5" y1="244.5" x2="451.5" y2="246.1" stroke="#2a2a2a" stroke-width="1"/>
<line x1="454.5" y1="244.5" x2="454.5" y2="246.1" stroke="#2a2a2a" stroke-width="1"/>
<line x1="456.5" y1="244.5" x2="456.5" y2="246.1" stroke="#2a2a2a" stroke-width="1"/>
<line x1="459.5" y1="244.5" x2="459.5" y2="246.1" stroke="#2a2a2a" stroke-width="1"/>
<line x1="462.5" y1="244.5" x2="462.5" y2="247.8" stroke="#2a2a2a" stroke-width="1"/>
<text x="462.3" y="260.9" font-size="12.3" font-weight="bold" font-style="normal" fill="#383838" text-anchor="middle" stroke="#383838" stroke-width="0.246" >-9</text>
<line x1="465.5" y1="244.5" x2="465.5" y2="246.1" stroke="#2a2a2a" stroke-width="1"/>
<line x1="467.5" y1="244.5" x2="467.5" y2="246.1" stroke="#2a2a2a" stroke-width="1"/>
<line x1="470.5" y1="244.5" x2="470.5" y2="246.1" stroke="#2a2a2a" stroke-width="1"/>
<line x1="473.5" y1="244.5" x2="473.5" y2="246.1" stroke="#2a2a2a" stroke-width="1"/>
<line x1="476.5" y1="244.5" x2="476.5" y2="246.1" stroke="#2a2a2a" stroke-width="1"/>
<line x1="478.5" y1="244.5" x2="478.5" y2="246.1" stroke="#2a2a2a" stroke-width="1"/>
<line x1="481.5" y1="244.5" x2="481.5" y2="246.1" stroke="#2a2a2a" stroke-width="1"/>
<line x1="484.5" y1="244.5" x2="484.5" y2="246.1" stroke="#2a2a2a" stroke-width="1"/>
<line x1="487.5" y1="244.5" x2="487.5" y2="246.1" stroke="#2a2a2a" stroke-width="1"/>
<line x1="489.5" y1="244.5" x2="489.5" y2="247.8" stroke="#2a2a2a" stroke-width="1"/>
<text x="489.9" y="260.9" font-size="12.3" font-weight="bold" font-style="normal" fill="#383838" text-anchor="middle" stroke="#383838" stroke-width="0.246" >-8</text>
<line x1="492.5" y1="244.5" x2="492.5" y2="246.1" stroke="#2a2a2a" stroke-width="1"/>
<line x1="495.5" y1="244.5" x2="495.5" y2="246.1" stroke="#2a2a2a" stroke-width="1"/>
<line x1="498.5" y1="244.5" x2="498.5" y2="246.1" stroke="#2a2a2a" stroke-width="1"/>
<line x1="500.5" y1="244.5" x2="500.5" y2="246.1" stroke="#2a2a2a" stroke-width="1"/>
<line x1="503.5" y1="244.5" x2="503.5" y2="246.1" stroke="#2a2a2a" stroke-width="1"/>
<line x1="506.5" y1="244.5" x2="506.5" y2="246.1" stroke="#2a2a2a" stroke-width="1"/>
<line x1="509.5" y1="244.5" x2="509.5" y2="246.1" stroke="#2a2a2a" stroke-width="1"/>
<line x1="511.5" y1="244.5" x2="511.5" y2="246.1" stroke="#2a2a2a" stroke-width="1"/>
<line x1="514.5" y1="244.5" x2="514.5" y2="246.1" stroke="#2a2a2a" stroke-width="1"/>
<line x1="517.5" y1="244.5" x2="517.5" y2="247.8" stroke="#2a2a2a" stroke-width="1"/>
<text x="517.5" y="260.9" font-size="12.3" font-weight="bold" font-style="normal" fill="#383838" text-anchor="middle" stroke="#383838" stroke-width="0.246" >-7</text>
<line x1="520.5" y1="244.5" x2="520.5" y2="246.1" stroke="#2a2a2a" stroke-width="1"/>
<line x1="523.5" y1="244.5" x2="523.5" y2="246.1" stroke="#2a2a2a" stroke-width="1"/>
<line x1="525.5" y1="244.5" x2="525.5" y2="246.1" stroke="#2a2a2a" stroke-width="1"/>
<line x1="528.5" y1="244.5" x2="528.5" y2="246.1" stroke="#2a2a2a" stroke-width="1"/>
<line x1="531.5" y1="244.5" x2="531.5" y2="246.1" stroke="#2a2a2a" stroke-width="1"/>
<line x1="534.5" y1="244.5" x2="534.5" y2="246.1" stroke="#2a2a2a" stroke-width="1"/>
<line x1="536.5" y1="244.5" x2="536.5" y2="246.1" stroke="#2a2a2a" stroke-width="1"/>
<line x1="539.5" y1="244.5" x2="539.5" y2="246.1" stroke="#2a2a2a" stroke-width="1"/>
<line x1="542.5" y1="244.5" x2="542.5" y2="246.1" stroke="#2a2a2a" stroke-width="1"/>
<line x1="545.5" y1="244.5" x2="545.5" y2="247.8" stroke="#2a2a2a" stroke-width="1"/>
<text x="545.1" y="260.9" font-size="12.3" font-weight="bold" font-style="normal" fill="#383838" text-anchor="middle" stroke="#383838" stroke-width="0.246" >-6</text>
<line x1="547.5" y1="244.5" x2="547.5" y2="246.1" stroke="#2a2a2a" stroke-width="1"/>
<line x1="550.5" y1="244.5" x2="550.5" y2="246.1" stroke="#2a2a2a" stroke-width="1"/>
<line x1="553.5" y1="244.5" x2="553.5" y2="246.1" stroke="#2a2a2a" stroke-width="1"/>
<line x1="556.5" y1="244.5" x2="556.5" y2="246.1" stroke="#2a2a2a" stroke-width="1"/>
<line x1="558.5" y1="244.5" x2="558.5" y2="246.1" stroke="#2a2a2a" stroke-width="1"/>
<line x1="561.5" y1="244.5" x2="561.5" y2="246.1" stroke="#2a2a2a" stroke-width="1"/>
<line x1="564.5" y1="244.5" x2="564.5" y2="246.1" stroke="#2a2a2a" stroke-width="1"/>
<text x="415.36" y="274.6" font-size="12.3" font-weight="bold" font-style="normal" fill="#000" text-anchor="start" textLength="83.66" lengthAdjust="spacingAndGlyphs" stroke="#000" stroke-width="0.246" >[Ligand] Log M</text>
<text x="435" y="93.6" font-size="11.2" font-weight="bold" font-style="normal" fill="#000" text-anchor="start" textLength="44.15" lengthAdjust="spacingAndGlyphs" stroke="#000" stroke-width="0.224" >Washout</text>
<text transform="translate(296,224.5) rotate(-90)" x="-0.46" y="0" font-size="12.3" font-weight="bold" font-style="normal" fill="#000" textLength="118.55" lengthAdjust="spacingAndGlyphs">cAMP (Luminescence</text>
<text transform="translate(313.1,216.9) rotate(-90)" x="-0.29" y="0" font-size="12.3" font-weight="bold" font-style="normal" fill="#000" textLength="89.77" lengthAdjust="spacingAndGlyphs">AUC, cps·90&#x27;x10</text>
<text transform="translate(307.7,126.7) rotate(-90)" x="-0.33" y="0" font-size="8.5" font-weight="bold" font-style="normal" fill="#000" textLength="7.33" lengthAdjust="spacingAndGlyphs">-5</text>
<text transform="translate(312.4,116.7) rotate(-90)" x="-0.07" y="0" font-size="12.3" font-weight="normal" font-style="normal" fill="#000" textLength="4.52" lengthAdjust="spacingAndGlyphs">)</text>
<line x1="448.5" y1="211.55" x2="448.5" y2="205.75" stroke="#0a2eff" stroke-width="1"/>
<line x1="445.4" y1="205.75" x2="451.6" y2="205.75" stroke="#0a2eff" stroke-width="1"/>
<line x1="462.3" y1="193.89" x2="462.3" y2="189.14" stroke="#0a2eff" stroke-width="1"/>
<line x1="459.2" y1="189.14" x2="465.4" y2="189.14" stroke="#0a2eff" stroke-width="1"/>
<line x1="476.1" y1="151.19" x2="476.1" y2="135.11" stroke="#0a2eff" stroke-width="1"/>
<line x1="473" y1="135.11" x2="479.2" y2="135.11" stroke="#0a2eff" stroke-width="1"/>
<line x1="489.9" y1="132.21" x2="489.9" y2="116.13" stroke="#0a2eff" stroke-width="1"/>
<line x1="486.8" y1="116.13" x2="493" y2="116.13" stroke="#0a2eff" stroke-width="1"/>
<line x1="503.7" y1="129.57" x2="503.7" y2="105.58" stroke="#0a2eff" stroke-width="1"/>
<line x1="500.6" y1="105.58" x2="506.8" y2="105.58" stroke="#0a2eff" stroke-width="1"/>
<line x1="462.3" y1="218.14" x2="462.3" y2="213.13" stroke="#ff2000" stroke-width="1"/>
<line x1="459.2" y1="213.13" x2="465.4" y2="213.13" stroke="#ff2000" stroke-width="1"/>
<line x1="476.1" y1="204.43" x2="476.1" y2="197.58" stroke="#ff2000" stroke-width="1"/>
<line x1="473" y1="197.58" x2="479.2" y2="197.58" stroke="#ff2000" stroke-width="1"/>
<line x1="489.9" y1="194.68" x2="489.9" y2="187.04" stroke="#ff2000" stroke-width="1"/>
<line x1="486.8" y1="187.04" x2="493" y2="187.04" stroke="#ff2000" stroke-width="1"/>
<line x1="503.7" y1="176.75" x2="503.7" y2="166.21" stroke="#ff2000" stroke-width="1"/>
<line x1="500.6" y1="166.21" x2="506.8" y2="166.21" stroke="#ff2000" stroke-width="1"/>
<line x1="517.5" y1="162.78" x2="517.5" y2="151.45" stroke="#ff2000" stroke-width="1"/>
<line x1="514.4" y1="151.45" x2="520.6" y2="151.45" stroke="#ff2000" stroke-width="1"/>
<line x1="503.7" y1="214.98" x2="503.7" y2="211.81" stroke="#0a8a0a" stroke-width="1"/>
<line x1="500.6" y1="211.81" x2="506.8" y2="211.81" stroke="#0a8a0a" stroke-width="1"/>
<line x1="517.5" y1="208.91" x2="517.5" y2="204.96" stroke="#0a8a0a" stroke-width="1"/>
<line x1="514.4" y1="204.96" x2="520.6" y2="204.96" stroke="#0a8a0a" stroke-width="1"/>
<line x1="531.3" y1="208.12" x2="531.3" y2="204.43" stroke="#0a8a0a" stroke-width="1"/>
<line x1="528.2" y1="204.43" x2="534.4" y2="204.43" stroke="#0a8a0a" stroke-width="1"/>
<line x1="545.1" y1="207.33" x2="545.1" y2="203.38" stroke="#0a8a0a" stroke-width="1"/>
<line x1="542" y1="203.38" x2="548.2" y2="203.38" stroke="#0a8a0a" stroke-width="1"/>
<polyline points="379.50,240.57 380.28,240.57 381.06,240.56 381.84,240.55 382.62,240.55 383.41,240.54 384.19,240.53 384.97,240.53 385.75,240.52 386.53,240.51 387.31,240.50 388.09,240.49 388.87,240.48 389.65,240.47 390.44,240.45 391.22,240.44 392.00,240.43 392.78,240.41 393.56,240.39 394.34,240.38 395.12,240.36 395.90,240.34 396.68,240.31 397.47,240.29 398.25,240.27 399.03,240.24 399.81,240.21 400.59,240.18 401.37,240.15 402.15,240.12 402.93,240.08 403.72,240.04 404.50,240.00 405.28,239.95 406.06,239.90 406.84,239.85 407.62,239.80 408.40,239.74 409.18,239.67 409.96,239.61 410.75,239.53 411.53,239.46 412.31,239.37 413.09,239.29 413.87,239.19 414.65,239.09 415.43,238.98 416.21,238.87 416.99,238.75 417.78,238.62 418.56,238.48 419.34,238.33 420.12,238.17 420.90,238.00 421.68,237.82 422.46,237.63 423.24,237.42 424.02,237.20 424.81,236.97 425.59,236.72 426.37,236.46 427.15,236.17 427.93,235.87 428.71,235.55 429.49,235.21 430.27,234.85 431.05,234.47 431.84,234.06 432.62,233.63 433.40,233.17 434.18,232.68 434.96,232.16 435.74,231.61 436.52,231.03 437.30,230.42 438.08,229.77 438.87,229.08 439.65,228.36 440.43,227.59 441.21,226.79 441.99,225.94 442.77,225.05 443.55,224.11 444.33,223.12 445.12,222.09 445.90,221.01 446.68,219.88 447.46,218.69 448.24,217.46 449.02,216.18 449.80,214.84 450.58,213.45 451.36,212.01 452.15,210.52 452.93,208.98 453.71,207.39 454.49,205.75 455.27,204.07 456.05,202.34 456.83,200.57 457.61,198.77 458.39,196.92 459.18,195.05 459.96,193.15 460.74,191.22 461.52,189.27 462.30,187.31 463.08,185.33 463.86,183.34 464.64,181.35 465.42,179.36 466.21,177.38 466.99,175.41 467.77,173.45 468.55,171.51 469.33,169.59 470.11,167.70 470.89,165.84 471.67,164.01 472.45,162.23 473.24,160.48 474.02,158.77 474.80,157.11 475.58,155.49 476.36,153.92 477.14,152.41 477.92,150.94 478.70,149.52 479.48,148.16 480.27,146.84 481.05,145.58 481.83,144.37 482.61,143.21 483.39,142.10 484.17,141.04 484.95,140.03 485.73,139.07 486.52,138.15 487.30,137.28 488.08,136.45 488.86,135.66 489.64,134.92 490.42,134.21 491.20,133.54 491.98,132.91 492.76,132.31 493.55,131.74 494.33,131.21 495.11,130.71 495.89,130.23 496.67,129.78 497.45,129.36 498.23,128.96 499.01,128.59 499.79,128.24 500.58,127.91 501.36,127.60 502.14,127.31 502.92,127.03 503.70,126.77" fill="none" stroke="#0a2eff" stroke-width="1.05"/>
<polyline points="365.70,240.96 366.65,240.96 367.61,240.95 368.56,240.94 369.52,240.94 370.47,240.93 371.43,240.92 372.38,240.91 373.34,240.90 374.29,240.90 375.25,240.89 376.20,240.88 377.16,240.86 378.11,240.85 379.07,240.84 380.02,240.83 380.98,240.82 381.93,240.80 382.88,240.79 383.84,240.77 384.79,240.75 385.75,240.74 386.70,240.72 387.66,240.70 388.61,240.68 389.57,240.66 390.52,240.64 391.48,240.61 392.43,240.59 393.39,240.56 394.34,240.53 395.30,240.50 396.25,240.47 397.21,240.44 398.16,240.40 399.12,240.37 400.07,240.33 401.02,240.29 401.98,240.25 402.93,240.20 403.89,240.15 404.84,240.10 405.80,240.05 406.75,240.00 407.71,239.94 408.66,239.88 409.62,239.81 410.57,239.75 411.53,239.67 412.48,239.60 413.44,239.52 414.39,239.44 415.35,239.35 416.30,239.26 417.25,239.16 418.21,239.06 419.16,238.95 420.12,238.83 421.07,238.71 422.03,238.59 422.98,238.46 423.94,238.32 424.89,238.17 425.85,238.02 426.80,237.86 427.76,237.69 428.71,237.51 429.67,237.32 430.62,237.13 431.58,236.92 432.53,236.71 433.48,236.48 434.44,236.24 435.39,235.99 436.35,235.73 437.30,235.45 438.26,235.17 439.21,234.87 440.17,234.55 441.12,234.22 442.08,233.88 443.03,233.52 443.99,233.14 444.94,232.75 445.90,232.33 446.85,231.90 447.81,231.46 448.76,230.99 449.72,230.50 450.67,229.99 451.62,229.47 452.58,228.92 453.53,228.35 454.49,227.75 455.44,227.14 456.40,226.50 457.35,225.84 458.31,225.15 459.26,224.44 460.22,223.71 461.17,222.95 462.13,222.16 463.08,221.36 464.04,220.52 464.99,219.67 465.95,218.79 466.90,217.88 467.85,216.95 468.81,216.00 469.76,215.03 470.72,214.03 471.67,213.01 472.63,211.98 473.58,210.92 474.54,209.84 475.49,208.75 476.45,207.64 477.40,206.51 478.36,205.38 479.31,204.22 480.27,203.06 481.22,201.89 482.18,200.71 483.13,199.52 484.08,198.33 485.04,197.14 485.99,195.94 486.95,194.75 487.90,193.56 488.86,192.37 489.81,191.18 490.77,190.01 491.72,188.84 492.68,187.68 493.63,186.54 494.59,185.40 495.54,184.28 496.50,183.18 497.45,182.10 498.41,181.03 499.36,179.98 500.32,178.95 501.27,177.94 502.22,176.96 503.18,175.99 504.13,175.05 505.09,174.14 506.04,173.24 507.00,172.37 507.95,171.53 508.91,170.71 509.86,169.91 510.82,169.14 511.77,168.39 512.73,167.67 513.68,166.97 514.64,166.29 515.59,165.64 516.55,165.01 517.50,164.41" fill="none" stroke="#ff2000" stroke-width="1.05"/>
<polyline points="365.70,241.40 366.83,241.40 367.96,241.40 369.08,241.40 370.21,241.40 371.34,241.40 372.47,241.40 373.60,241.40 374.73,241.40 375.85,241.40 376.98,241.40 378.11,241.40 379.24,241.40 380.37,241.40 381.50,241.40 382.62,241.40 383.75,241.40 384.88,241.40 386.01,241.40 387.14,241.40 388.27,241.40 389.39,241.40 390.52,241.40 391.65,241.40 392.78,241.40 393.91,241.40 395.04,241.40 396.16,241.40 397.29,241.40 398.42,241.40 399.55,241.40 400.68,241.40 401.81,241.40 402.93,241.40 404.06,241.40 405.19,241.40 406.32,241.40 407.45,241.40 408.58,241.40 409.70,241.40 410.83,241.40 411.96,241.40 413.09,241.40 414.22,241.40 415.35,241.40 416.47,241.40 417.60,241.40 418.73,241.40 419.86,241.40 420.99,241.40 422.12,241.40 423.24,241.40 424.37,241.40 425.50,241.40 426.63,241.39 427.76,241.39 428.88,241.39 430.01,241.39 431.14,241.39 432.27,241.38 433.40,241.38 434.53,241.38 435.65,241.37 436.78,241.37 437.91,241.36 439.04,241.36 440.17,241.35 441.30,241.34 442.42,241.33 443.55,241.32 444.68,241.31 445.81,241.30 446.94,241.28 448.07,241.26 449.19,241.24 450.32,241.22 451.45,241.19 452.58,241.16 453.71,241.13 454.84,241.09 455.96,241.04 457.09,240.99 458.22,240.93 459.35,240.86 460.48,240.78 461.61,240.69 462.73,240.58 463.86,240.47 464.99,240.33 466.12,240.18 467.25,240.01 468.38,239.81 469.50,239.59 470.63,239.33 471.76,239.05 472.89,238.73 474.02,238.37 475.15,237.97 476.27,237.52 477.40,237.02 478.53,236.46 479.66,235.85 480.79,235.18 481.92,234.45 483.04,233.66 484.17,232.81 485.30,231.89 486.43,230.92 487.56,229.90 488.68,228.83 489.81,227.72 490.94,226.58 492.07,225.43 493.20,224.26 494.33,223.09 495.45,221.94 496.58,220.81 497.71,219.72 498.84,218.66 499.97,217.65 501.10,216.70 502.22,215.81 503.35,214.97 504.48,214.20 505.61,213.49 506.74,212.84 507.87,212.25 508.99,211.72 510.12,211.23 511.25,210.80 512.38,210.41 513.51,210.06 514.64,209.76 515.76,209.48 516.89,209.24 518.02,209.03 519.15,208.84 520.28,208.67 521.41,208.53 522.53,208.40 523.66,208.29 524.79,208.19 525.92,208.10 527.05,208.02 528.18,207.96 529.30,207.90 530.43,207.85 531.56,207.80 532.69,207.77 533.82,207.73 534.95,207.70 536.07,207.68 537.20,207.65 538.33,207.63 539.46,207.62 540.59,207.60 541.72,207.59 542.84,207.58 543.97,207.57 545.10,207.56" fill="none" stroke="#0a8a0a" stroke-width="1.05"/>
<circle cx="379.5" cy="241.07" r="2.8" fill="#0a2eff"/>
<circle cx="393.3" cy="240.81" r="2.8" fill="#0a2eff"/>
<circle cx="407.1" cy="240.02" r="2.8" fill="#0a2eff"/>
<circle cx="420.9" cy="238.7" r="2.8" fill="#0a2eff"/>
<circle cx="434.7" cy="232.37" r="2.8" fill="#0a2eff"/>
<circle cx="448.5" cy="211.55" r="2.8" fill="#0a2eff"/>
<circle cx="462.3" cy="193.89" r="2.8" fill="#0a2eff"/>
<circle cx="476.1" cy="151.19" r="2.8" fill="#0a2eff"/>
<circle cx="489.9" cy="132.21" r="2.8" fill="#0a2eff"/>
<circle cx="503.7" cy="129.57" r="2.8" fill="#0a2eff"/>
<rect x="362.9" y="238.27" width="5.6" height="5.6" fill="#ff2000"/>
<rect x="418.1" y="238.27" width="5.6" height="5.6" fill="#ff2000"/>
<rect x="431.9" y="237.48" width="5.6" height="5.6" fill="#ff2000"/>
<rect x="445.7" y="231.16" width="5.6" height="5.6" fill="#ff2000"/>
<rect x="459.5" y="215.34" width="5.6" height="5.6" fill="#ff2000"/>
<rect x="473.3" y="201.63" width="5.6" height="5.6" fill="#ff2000"/>
<rect x="487.1" y="191.88" width="5.6" height="5.6" fill="#ff2000"/>
<rect x="500.9" y="173.95" width="5.6" height="5.6" fill="#ff2000"/>
<rect x="514.7" y="159.98" width="5.6" height="5.6" fill="#ff2000"/>
<path d="M365.7,237.98 L368.8,243.86 L362.6,243.86 Z" fill="#0a8a0a"/>
<path d="M420.9,237.98 L424,243.86 L417.8,243.86 Z" fill="#0a8a0a"/>
<path d="M434.7,237.98 L437.8,243.86 L431.6,243.86 Z" fill="#0a8a0a"/>
<path d="M448.5,237.98 L451.6,243.86 L445.4,243.86 Z" fill="#0a8a0a"/>
<path d="M462.3,237.19 L465.4,243.07 L459.2,243.07 Z" fill="#0a8a0a"/>
<path d="M476.1,234.55 L479.2,240.43 L473,240.43 Z" fill="#0a8a0a"/>
<path d="M489.9,224.01 L493,229.89 L486.8,229.89 Z" fill="#0a8a0a"/>
<path d="M503.7,211.62 L506.8,217.5 L500.6,217.5 Z" fill="#0a8a0a"/>
<path d="M517.5,205.55 L520.6,211.43 L514.4,211.43 Z" fill="#0a8a0a"/>
<path d="M531.3,204.76 L534.4,210.64 L528.2,210.64 Z" fill="#0a8a0a"/>
<path d="M545.1,203.97 L548.2,209.85 L542,209.85 Z" fill="#0a8a0a"/>
<line x1="570" y1="109.3" x2="586.7" y2="109.3" stroke="#0a2eff" stroke-width="1.1"/>
<circle cx="578.5" cy="109.3" r="2.6" fill="#0a2eff"/>
<text x="594.55" y="113.2" font-size="12" font-weight="bold" font-style="normal" fill="#0a2eff" text-anchor="start" textLength="54.0" lengthAdjust="spacingAndGlyphs" stroke="#0a2eff" stroke-width="0.240" >PTH(1-34)</text>
<line x1="570" y1="128.4" x2="586.7" y2="128.4" stroke="#0a8a0a" stroke-width="1.1"/>
<path d="M578.5,125.28 L581.4,130.74 L575.6,130.74 Z" fill="#0a8a0a"/>
<text x="594.61" y="132.5" font-size="11.9" font-weight="bold" font-style="normal" fill="#0a8a0a" text-anchor="start" textLength="61.81" lengthAdjust="spacingAndGlyphs" stroke="#0a8a0a" stroke-width="0.238" >M-PTH(1-14)</text>
<line x1="570" y1="146.5" x2="586.7" y2="146.5" stroke="#ff2000" stroke-width="1.1"/>
<rect x="575.9" y="143.9" width="5.2" height="5.2" fill="#ff2000"/>
<text x="594.61" y="150.2" font-size="11.2" font-weight="bold" font-style="normal" fill="#ff2000" text-anchor="start" textLength="90.18" lengthAdjust="spacingAndGlyphs" stroke="#ff2000" stroke-width="0.224" >Palm-M-PTH(1-14)</text>
<text x="0.16" y="310" font-size="26.8" font-weight="bold" font-style="normal" fill="#000" text-anchor="start" textLength="19.3" lengthAdjust="spacingAndGlyphs" stroke="#000" stroke-width="0.536" >B</text>
<rect x="5.3" y="330.5" width="298.4" height="52.6" fill="none" stroke="#111" stroke-width="1.2"/>
<line x1="5.3" y1="353.4" x2="303.7" y2="353.4" stroke="#111" stroke-width="1.3"/>
<text x="88.73" y="339.4" font-size="8.2" font-weight="bold" font-style="italic" fill="#000" text-anchor="start" textLength="40.63" lengthAdjust="spacingAndGlyphs" stroke="#000" stroke-width="0.164" >Ligand on</text>
<text x="217.7" y="339.4" font-size="8.4" font-weight="bold" font-style="normal" fill="#000" text-anchor="start" textLength="38.11" lengthAdjust="spacingAndGlyphs" stroke="#000" stroke-width="0.168" >Wash out</text>
<text x="85.37" y="349.5" font-size="8.4" font-weight="bold" font-style="normal" fill="#000" text-anchor="start" textLength="16.34" lengthAdjust="spacingAndGlyphs" stroke="#000" stroke-width="0.168" >pEC</text>
<text x="101.83" y="350.7" font-size="5.4" font-weight="bold" font-style="normal" fill="#000" text-anchor="start" textLength="6.2" lengthAdjust="spacingAndGlyphs" stroke="#000" stroke-width="0.108" >50</text>
<text x="201.07" y="349.5" font-size="8.4" font-weight="bold" font-style="normal" fill="#000" text-anchor="start" textLength="16.34" lengthAdjust="spacingAndGlyphs" stroke="#000" stroke-width="0.168" >pEC</text>
<text x="217.53" y="350.7" font-size="5.4" font-weight="bold" font-style="normal" fill="#000" text-anchor="start" textLength="6.2" lengthAdjust="spacingAndGlyphs" stroke="#000" stroke-width="0.108" >50</text>
<text x="123.65" y="349.3" font-size="6.8" font-weight="normal" font-style="normal" fill="#000" text-anchor="start" textLength="15.55" lengthAdjust="spacingAndGlyphs" stroke="#000" stroke-width="0.082" >(nM)</text>
<text x="244.24" y="349.3" font-size="6.8" font-weight="normal" font-style="normal" fill="#000" text-anchor="start" textLength="15.87" lengthAdjust="spacingAndGlyphs" stroke="#000" stroke-width="0.082" >(nM)</text>
<text x="158.35" y="349.3" font-size="6.8" font-weight="normal" font-style="italic" fill="#000" text-anchor="start" textLength="3.24" lengthAdjust="spacingAndGlyphs" stroke="#000" stroke-width="0.082" >p</text>
<text x="282.35" y="349.3" font-size="6.8" font-weight="normal" font-style="italic" fill="#000" text-anchor="start" textLength="3.24" lengthAdjust="spacingAndGlyphs" stroke="#000" stroke-width="0.082" >p</text>
<text x="6.73" y="361" font-size="7.0" font-weight="bold" font-style="normal" fill="#0a2eff" text-anchor="start" textLength="33.61" lengthAdjust="spacingAndGlyphs" stroke="#0a2eff" stroke-width="0.140" >PTH(1-34)</text>
<text x="76.94" y="361" font-size="7.2" font-weight="bold" font-style="normal" fill="#111" text-anchor="start" textLength="14.47" lengthAdjust="spacingAndGlyphs" stroke="#111" stroke-width="0.144" >9.92</text>
<text x="94.5" y="361" font-size="7.2" font-weight="bold" font-style="normal" fill="#111" text-anchor="start" textLength="4.39" lengthAdjust="spacingAndGlyphs" stroke="#111" stroke-width="0.144" >±</text>
<text x="101.71" y="361" font-size="7.2" font-weight="bold" font-style="normal" fill="#111" text-anchor="start" textLength="13.98" lengthAdjust="spacingAndGlyphs" stroke="#111" stroke-width="0.144" >0.05</text>
<text x="128.41" y="361" font-size="7.0" font-weight="normal" font-style="normal" fill="#000" text-anchor="start" textLength="14.16" lengthAdjust="spacingAndGlyphs" stroke="#000" stroke-width="0.084" >0.12</text>
<text x="149.34" y="361" font-size="7.0" font-weight="normal" font-style="normal" fill="#000" text-anchor="start" textLength="26.2" lengthAdjust="spacingAndGlyphs" stroke="#000" stroke-width="0.084" >&lt;0.0001</text>
<text x="193.08" y="361" font-size="7.2" font-weight="bold" font-style="normal" fill="#111" text-anchor="start" textLength="14.31" lengthAdjust="spacingAndGlyphs" stroke="#111" stroke-width="0.144" >8.95</text>
<text x="210.6" y="361" font-size="7.2" font-weight="bold" font-style="normal" fill="#111" text-anchor="start" textLength="4.39" lengthAdjust="spacingAndGlyphs" stroke="#111" stroke-width="0.144" >±</text>
<text x="217.81" y="361" font-size="7.2" font-weight="bold" font-style="normal" fill="#111" text-anchor="start" textLength="14.09" lengthAdjust="spacingAndGlyphs" stroke="#111" stroke-width="0.144" >0.12</text>
<text x="234.87" y="361" font-size="6.5" font-weight="bold" font-style="normal" fill="#111" text-anchor="start" textLength="2.25" lengthAdjust="spacingAndGlyphs" stroke="#111" stroke-width="0.130" >*</text>
<text x="248.66" y="361" font-size="7.0" font-weight="normal" font-style="normal" fill="#000" text-anchor="start" textLength="14.12" lengthAdjust="spacingAndGlyphs" stroke="#000" stroke-width="0.084" >1.12</text>
<text x="272.47" y="361" font-size="7.0" font-weight="normal" font-style="italic" fill="#000" text-anchor="start" textLength="22.66" lengthAdjust="spacingAndGlyphs" stroke="#000" stroke-width="0.084" >0.0003</text>
<text x="6.74" y="370.6" font-size="7.0" font-weight="bold" font-style="normal" fill="#0a8a0a" text-anchor="start" textLength="41.71" lengthAdjust="spacingAndGlyphs" stroke="#0a8a0a" stroke-width="0.140" >M-PTH(1-14)</text>
<text x="76.98" y="370.6" font-size="7.2" font-weight="bold" font-style="normal" fill="#111" text-anchor="start" textLength="14.35" lengthAdjust="spacingAndGlyphs" stroke="#111" stroke-width="0.144" >8.58</text>
<text x="94.5" y="370.6" font-size="7.2" font-weight="bold" font-style="normal" fill="#111" text-anchor="start" textLength="4.39" lengthAdjust="spacingAndGlyphs" stroke="#111" stroke-width="0.144" >±</text>
<text x="101.71" y="370.6" font-size="7.2" font-weight="bold" font-style="normal" fill="#111" text-anchor="start" textLength="14.09" lengthAdjust="spacingAndGlyphs" stroke="#111" stroke-width="0.144" >0.10</text>
<text x="128.34" y="370.6" font-size="7.0" font-weight="normal" font-style="normal" fill="#000" text-anchor="start" textLength="14.16" lengthAdjust="spacingAndGlyphs" stroke="#000" stroke-width="0.084" >2.63</text>
<text x="193" y="370.6" font-size="7.2" font-weight="bold" font-style="normal" fill="#111" text-anchor="start" textLength="14.51" lengthAdjust="spacingAndGlyphs" stroke="#111" stroke-width="0.144" >7.60</text>
<text x="210.6" y="370.6" font-size="7.2" font-weight="bold" font-style="normal" fill="#111" text-anchor="start" textLength="4.39" lengthAdjust="spacingAndGlyphs" stroke="#111" stroke-width="0.144" >±</text>
<text x="217.82" y="370.6" font-size="7.2" font-weight="bold" font-style="normal" fill="#111" text-anchor="start" textLength="13.83" lengthAdjust="spacingAndGlyphs" stroke="#111" stroke-width="0.144" >0.14</text>
<text x="248.85" y="370.6" font-size="7.0" font-weight="normal" font-style="normal" fill="#000" text-anchor="start" textLength="13.81" lengthAdjust="spacingAndGlyphs" stroke="#000" stroke-width="0.084" >25.0</text>
<text x="6.74" y="380.4" font-size="7.0" font-weight="bold" font-style="normal" fill="#ff2000" text-anchor="start" textLength="60.9" lengthAdjust="spacingAndGlyphs" stroke="#ff2000" stroke-width="0.140" >Palm-M-PTH(1-14)</text>
<text x="76.94" y="380.4" font-size="7.2" font-weight="bold" font-style="normal" fill="#111" text-anchor="start" textLength="14.35" lengthAdjust="spacingAndGlyphs" stroke="#111" stroke-width="0.144" >9.55</text>
<text x="94.5" y="380.4" font-size="7.2" font-weight="bold" font-style="normal" fill="#111" text-anchor="start" textLength="4.39" lengthAdjust="spacingAndGlyphs" stroke="#111" stroke-width="0.144" >±</text>
<text x="101.71" y="380.4" font-size="7.2" font-weight="bold" font-style="normal" fill="#111" text-anchor="start" textLength="14.09" lengthAdjust="spacingAndGlyphs" stroke="#111" stroke-width="0.144" >0.12</text>
<text x="128.41" y="380.4" font-size="7.0" font-weight="normal" font-style="normal" fill="#000" text-anchor="start" textLength="14.09" lengthAdjust="spacingAndGlyphs" stroke="#000" stroke-width="0.084" >0.28</text>
<text x="150.85" y="380.4" font-size="7.0" font-weight="normal" font-style="italic" fill="#000" text-anchor="start" textLength="23.88" lengthAdjust="spacingAndGlyphs" stroke="#000" stroke-width="0.084" >0.0008</text>
<text x="193.08" y="380.4" font-size="7.2" font-weight="bold" font-style="normal" fill="#111" text-anchor="start" textLength="14.43" lengthAdjust="spacingAndGlyphs" stroke="#111" stroke-width="0.144" >8.00</text>
<text x="210.6" y="380.4" font-size="7.2" font-weight="bold" font-style="normal" fill="#111" text-anchor="start" textLength="4.39" lengthAdjust="spacingAndGlyphs" stroke="#111" stroke-width="0.144" >±</text>
<text x="217.81" y="380.4" font-size="7.2" font-weight="bold" font-style="normal" fill="#111" text-anchor="start" textLength="14.09" lengthAdjust="spacingAndGlyphs" stroke="#111" stroke-width="0.144" >0.22</text>
<text x="234.87" y="380.4" font-size="6.5" font-weight="bold" font-style="normal" fill="#111" text-anchor="start" textLength="2.25" lengthAdjust="spacingAndGlyphs" stroke="#111" stroke-width="0.130" >*</text>
<text x="248.66" y="380.4" font-size="7.0" font-weight="normal" font-style="normal" fill="#000" text-anchor="start" textLength="14.0" lengthAdjust="spacingAndGlyphs" stroke="#000" stroke-width="0.084" >10.0</text>
<text x="280.67" y="380.4" font-size="7.0" font-weight="normal" font-style="italic" fill="#000" text-anchor="start" textLength="14.48" lengthAdjust="spacingAndGlyphs" stroke="#000" stroke-width="0.084" >0.18</text>
<text x="6.64" y="399.6" font-size="6.6" font-weight="normal" font-style="normal" fill="#000" text-anchor="start" textLength="205.72" lengthAdjust="spacingAndGlyphs" stroke="#000" stroke-width="0.079" >p, statistical differences (T test) of pEC50 values vs. M-PTH(1-14)</text>
<text x="6.99" y="408.7" font-size="6.6" font-weight="normal" font-style="normal" fill="#000" text-anchor="start" textLength="292.47" lengthAdjust="spacingAndGlyphs" stroke="#000" stroke-width="0.079" >*, the corresponding Emax values was significantly different (P &lt;0.05 T test) vs. M-PTH(1-14)</text>
<text x="312.23" y="310.2" font-size="26.8" font-weight="bold" font-style="normal" fill="#000" text-anchor="start" textLength="19.3" lengthAdjust="spacingAndGlyphs" stroke="#000" stroke-width="0.536" >C</text>
<line x1="354.6" y1="295" x2="565.5" y2="295" stroke="#777" stroke-width="1"/>
<line x1="565.5" y1="295" x2="565.5" y2="435.2" stroke="#777" stroke-width="1"/>
<line x1="354.6" y1="295" x2="354.6" y2="435.2" stroke="#333" stroke-width="1.2"/>
<line x1="354.6" y1="435.2" x2="565.5" y2="435.2" stroke="#333" stroke-width="1.2"/>
<line x1="353" y1="434.8" x2="354.6" y2="434.8" stroke="#333" stroke-width="0.9"/>
<line x1="353" y1="426.6" x2="354.6" y2="426.6" stroke="#333" stroke-width="0.9"/>
<line x1="353" y1="418.4" x2="354.6" y2="418.4" stroke="#333" stroke-width="0.9"/>
<line x1="351.4" y1="410.2" x2="354.6" y2="410.2" stroke="#333" stroke-width="1"/>
<text x="349.6" y="412.9" font-size="8.9" font-weight="bold" font-style="normal" fill="#000" text-anchor="end" stroke="#000" stroke-width="0.178" >1.25</text>
<line x1="353" y1="402" x2="354.6" y2="402" stroke="#333" stroke-width="0.9"/>
<line x1="353" y1="393.8" x2="354.6" y2="393.8" stroke="#333" stroke-width="0.9"/>
<line x1="353" y1="385.6" x2="354.6" y2="385.6" stroke="#333" stroke-width="0.9"/>
<line x1="353" y1="377.4" x2="354.6" y2="377.4" stroke="#333" stroke-width="0.9"/>
<line x1="351.4" y1="369.2" x2="354.6" y2="369.2" stroke="#333" stroke-width="1"/>
<text x="349.6" y="371.9" font-size="8.9" font-weight="bold" font-style="normal" fill="#000" text-anchor="end" stroke="#000" stroke-width="0.178" >1.30</text>
<line x1="353" y1="361" x2="354.6" y2="361" stroke="#333" stroke-width="0.9"/>
<line x1="353" y1="352.8" x2="354.6" y2="352.8" stroke="#333" stroke-width="0.9"/>
<line x1="353" y1="344.6" x2="354.6" y2="344.6" stroke="#333" stroke-width="0.9"/>
<line x1="353" y1="336.4" x2="354.6" y2="336.4" stroke="#333" stroke-width="0.9"/>
<line x1="351.4" y1="328.2" x2="354.6" y2="328.2" stroke="#333" stroke-width="1"/>
<text x="349.6" y="330.9" font-size="8.9" font-weight="bold" font-style="normal" fill="#000" text-anchor="end" stroke="#000" stroke-width="0.178" >1.35</text>
<line x1="353" y1="320" x2="354.6" y2="320" stroke="#333" stroke-width="0.9"/>
<line x1="353" y1="311.8" x2="354.6" y2="311.8" stroke="#333" stroke-width="0.9"/>
<line x1="353" y1="303.6" x2="354.6" y2="303.6" stroke="#333" stroke-width="0.9"/>
<line x1="353" y1="295.4" x2="354.6" y2="295.4" stroke="#333" stroke-width="0.9"/>
<line x1="356.1" y1="435.2" x2="356.1" y2="437.7" stroke="#333" stroke-width="1"/>
<text x="356.1" y="447.6" font-size="8.8" font-weight="bold" font-style="normal" fill="#000" text-anchor="middle" stroke="#000" stroke-width="0.176" >0</text>
<line x1="364.39" y1="435.2" x2="364.39" y2="436.6" stroke="#333" stroke-width="0.9"/>
<line x1="372.68" y1="435.2" x2="372.68" y2="436.6" stroke="#333" stroke-width="0.9"/>
<line x1="380.97" y1="435.2" x2="380.97" y2="436.6" stroke="#333" stroke-width="0.9"/>
<line x1="389.26" y1="435.2" x2="389.26" y2="436.6" stroke="#333" stroke-width="0.9"/>
<line x1="397.55" y1="435.2" x2="397.55" y2="436.6" stroke="#333" stroke-width="0.9"/>
<line x1="405.84" y1="435.2" x2="405.84" y2="437.7" stroke="#333" stroke-width="1"/>
<text x="405.84" y="447.6" font-size="8.8" font-weight="bold" font-style="normal" fill="#000" text-anchor="middle" stroke="#000" stroke-width="0.176" >6</text>
<line x1="414.13" y1="435.2" x2="414.13" y2="436.6" stroke="#333" stroke-width="0.9"/>
<line x1="422.42" y1="435.2" x2="422.42" y2="436.6" stroke="#333" stroke-width="0.9"/>
<line x1="430.71" y1="435.2" x2="430.71" y2="436.6" stroke="#333" stroke-width="0.9"/>
<line x1="439" y1="435.2" x2="439" y2="436.6" stroke="#333" stroke-width="0.9"/>
<line x1="447.29" y1="435.2" x2="447.29" y2="436.6" stroke="#333" stroke-width="0.9"/>
<line x1="455.58" y1="435.2" x2="455.58" y2="437.7" stroke="#333" stroke-width="1"/>
<text x="455.58" y="447.6" font-size="8.8" font-weight="bold" font-style="normal" fill="#000" text-anchor="middle" stroke="#000" stroke-width="0.176" >12</text>
<line x1="463.87" y1="435.2" x2="463.87" y2="436.6" stroke="#333" stroke-width="0.9"/>
<line x1="472.16" y1="435.2" x2="472.16" y2="436.6" stroke="#333" stroke-width="0.9"/>
<line x1="480.45" y1="435.2" x2="480.45" y2="436.6" stroke="#333" stroke-width="0.9"/>
<line x1="488.74" y1="435.2" x2="488.74" y2="436.6" stroke="#333" stroke-width="0.9"/>
<line x1="497.03" y1="435.2" x2="497.03" y2="436.6" stroke="#333" stroke-width="0.9"/>
<line x1="505.32" y1="435.2" x2="505.32" y2="437.7" stroke="#333" stroke-width="1"/>
<text x="505.32" y="447.6" font-size="8.8" font-weight="bold" font-style="normal" fill="#000" text-anchor="middle" stroke="#000" stroke-width="0.176" >18</text>
<line x1="513.61" y1="435.2" x2="513.61" y2="436.6" stroke="#333" stroke-width="0.9"/>
<line x1="521.9" y1="435.2" x2="521.9" y2="436.6" stroke="#333" stroke-width="0.9"/>
<line x1="530.19" y1="435.2" x2="530.19" y2="436.6" stroke="#333" stroke-width="0.9"/>
<line x1="538.48" y1="435.2" x2="538.48" y2="436.6" stroke="#333" stroke-width="0.9"/>
<line x1="546.77" y1="435.2" x2="546.77" y2="436.6" stroke="#333" stroke-width="0.9"/>
<line x1="555.06" y1="435.2" x2="555.06" y2="437.7" stroke="#333" stroke-width="1"/>
<text x="555.06" y="447.6" font-size="8.8" font-weight="bold" font-style="normal" fill="#000" text-anchor="middle" stroke="#000" stroke-width="0.176" >24</text>
<line x1="563.35" y1="435.2" x2="563.35" y2="436.6" stroke="#333" stroke-width="0.9"/>
<text x="398" y="458.7" font-size="10.8" font-weight="bold" font-style="normal" fill="#000" text-anchor="start" textLength="124.2" lengthAdjust="spacingAndGlyphs" stroke="#000" stroke-width="0.216" >Time after IV injection (h)</text>
<text transform="translate(327.2,405) rotate(-90)" x="-0.68" y="0" font-size="10.6" font-weight="bold" font-style="normal" fill="#000" textLength="45.76" lengthAdjust="spacingAndGlyphs">Blood Ca</text>
<text transform="translate(323.3,358.1) rotate(-90)" x="-0.27" y="0" font-size="6.8" font-weight="bold" font-style="normal" fill="#000" textLength="7.82" lengthAdjust="spacingAndGlyphs">++</text>
<text transform="translate(327.2,345.7) rotate(-90)" x="-0.49" y="0" font-size="10.6" font-weight="bold" font-style="normal" fill="#000" textLength="23.57" lengthAdjust="spacingAndGlyphs">(mM)</text>
<text x="399.23" y="288.6" font-size="10.5" font-weight="bold" font-style="normal" fill="#000" text-anchor="start" textLength="45.36" lengthAdjust="spacingAndGlyphs" stroke="#000" stroke-width="0.210" >Blood Ca</text>
<text x="445.62" y="283.9" font-size="6.4" font-weight="bold" font-style="normal" fill="#000" text-anchor="start" textLength="8.04" lengthAdjust="spacingAndGlyphs" stroke="#000" stroke-width="0.128" >++</text>
<text x="456.85" y="288.6" font-size="10.5" font-weight="bold" font-style="normal" fill="#000" text-anchor="start" textLength="56.56" lengthAdjust="spacingAndGlyphs" stroke="#000" stroke-width="0.210" >in WT mice</text>
<polyline points="356.10,412.25 364.39,344.60 372.68,316.88 389.26,329.18 414.13,360.84 555.06,401.02" fill="none" stroke="#ff2000" stroke-width="2" stroke-linejoin="round"/>
<line x1="364.39" y1="344.6" x2="364.39" y2="338.86" stroke="#ff2000" stroke-width="1.2"/>
<line x1="362.79" y1="338.86" x2="365.99" y2="338.86" stroke="#ff2000" stroke-width="1.2"/>
<line x1="372.68" y1="316.88" x2="372.68" y2="307.86" stroke="#ff2000" stroke-width="1.2"/>
<line x1="371.08" y1="307.86" x2="374.28" y2="307.86" stroke="#ff2000" stroke-width="1.2"/>
<line x1="389.26" y1="329.18" x2="389.26" y2="322.62" stroke="#ff2000" stroke-width="1.2"/>
<line x1="387.66" y1="322.62" x2="390.86" y2="322.62" stroke="#ff2000" stroke-width="1.2"/>
<line x1="414.13" y1="360.84" x2="414.13" y2="355.67" stroke="#ff2000" stroke-width="1.2"/>
<line x1="412.53" y1="355.67" x2="415.73" y2="355.67" stroke="#ff2000" stroke-width="1.2"/>
<line x1="555.06" y1="401.02" x2="555.06" y2="391.75" stroke="#ff2000" stroke-width="1.2"/>
<line x1="553.46" y1="391.75" x2="556.66" y2="391.75" stroke="#ff2000" stroke-width="1.2"/>
<rect x="353.7" y="409.85" width="4.8" height="4.8" fill="#ff2000"/>
<rect x="361.99" y="342.2" width="4.8" height="4.8" fill="#ff2000"/>
<rect x="370.28" y="314.48" width="4.8" height="4.8" fill="#ff2000"/>
<rect x="386.86" y="326.78" width="4.8" height="4.8" fill="#ff2000"/>
<rect x="411.73" y="358.44" width="4.8" height="4.8" fill="#ff2000"/>
<rect x="552.66" y="398.62" width="4.8" height="4.8" fill="#ff2000"/>
<polyline points="356.10,407.08 364.39,395.11 372.68,390.03 389.26,402.74 414.13,398.97 555.06,406.84" fill="none" stroke="#0a8a0a" stroke-width="2" stroke-linejoin="round"/>
<line x1="364.39" y1="395.11" x2="364.39" y2="386.91" stroke="#0a8a0a" stroke-width="1.2"/>
<line x1="362.79" y1="386.91" x2="365.99" y2="386.91" stroke="#0a8a0a" stroke-width="1.2"/>
<line x1="372.68" y1="390.03" x2="372.68" y2="380.68" stroke="#0a8a0a" stroke-width="1.2"/>
<line x1="371.08" y1="380.68" x2="374.28" y2="380.68" stroke="#0a8a0a" stroke-width="1.2"/>
<line x1="414.13" y1="398.97" x2="414.13" y2="392.16" stroke="#0a8a0a" stroke-width="1.2"/>
<line x1="412.53" y1="392.16" x2="415.73" y2="392.16" stroke="#0a8a0a" stroke-width="1.2"/>
<line x1="555.06" y1="406.84" x2="555.06" y2="393.8" stroke="#0a8a0a" stroke-width="1.2"/>
<line x1="553.46" y1="393.8" x2="556.66" y2="393.8" stroke="#0a8a0a" stroke-width="1.2"/>
<path d="M356.1,404.2 L358.8,409.24 L353.4,409.24 Z" fill="#0a8a0a"/>
<path d="M364.39,392.23 L367.09,397.27 L361.69,397.27 Z" fill="#0a8a0a"/>
<path d="M372.68,387.15 L375.38,392.19 L369.98,392.19 Z" fill="#0a8a0a"/>
<path d="M389.26,399.86 L391.96,404.9 L386.56,404.9 Z" fill="#0a8a0a"/>
<path d="M414.13,396.09 L416.83,401.13 L411.43,401.13 Z" fill="#0a8a0a"/>
<path d="M555.06,403.96 L557.76,409 L552.36,409 Z" fill="#0a8a0a"/>
<polyline points="356.10,410.61 364.39,351.49 372.68,346.90 389.26,396.83 414.13,398.31 555.06,415.04" fill="none" stroke="#0a2eff" stroke-width="2" stroke-linejoin="round"/>
<line x1="364.39" y1="351.49" x2="364.39" y2="340.34" stroke="#0a2eff" stroke-width="1.2"/>
<line x1="362.79" y1="340.34" x2="365.99" y2="340.34" stroke="#0a2eff" stroke-width="1.2"/>
<line x1="372.68" y1="346.9" x2="372.68" y2="337.63" stroke="#0a2eff" stroke-width="1.2"/>
<line x1="371.08" y1="337.63" x2="374.28" y2="337.63" stroke="#0a2eff" stroke-width="1.2"/>
<line x1="389.26" y1="396.83" x2="389.26" y2="385.6" stroke="#0a2eff" stroke-width="1.2"/>
<line x1="387.66" y1="385.6" x2="390.86" y2="385.6" stroke="#0a2eff" stroke-width="1.2"/>
<line x1="414.13" y1="398.31" x2="414.13" y2="388.06" stroke="#0a2eff" stroke-width="1.2"/>
<line x1="412.53" y1="388.06" x2="415.73" y2="388.06" stroke="#0a2eff" stroke-width="1.2"/>
<circle cx="356.1" cy="410.61" r="2.4" fill="#0a2eff"/>
<circle cx="364.39" cy="351.49" r="2.4" fill="#0a2eff"/>
<circle cx="372.68" cy="346.9" r="2.4" fill="#0a2eff"/>
<circle cx="389.26" cy="396.83" r="2.4" fill="#0a2eff"/>
<circle cx="414.13" cy="398.31" r="2.4" fill="#0a2eff"/>
<circle cx="555.06" cy="415.04" r="2.4" fill="#0a2eff"/>
<text x="364.4" y="330.2" font-size="6.5" font-weight="bold" font-style="normal" fill="#ff2000" text-anchor="middle" stroke="#ff2000" stroke-width="0.130" opacity="0.75">*</text>
<text x="364.4" y="324.5" font-size="6.5" font-weight="bold" font-style="normal" fill="#0a2eff" text-anchor="middle" stroke="#0a2eff" stroke-width="0.130" opacity="0.75">*</text>
<text x="372.5" y="333.7" font-size="6.5" font-weight="bold" font-style="normal" fill="#0a2eff" text-anchor="middle" stroke="#0a2eff" stroke-width="0.130" opacity="0.75">*</text>
<text x="372.5" y="304.9" font-size="6.5" font-weight="bold" font-style="normal" fill="#ff2000" text-anchor="middle" stroke="#ff2000" stroke-width="0.130" opacity="0.75">*</text>
<text x="389.2" y="313" font-size="6.5" font-weight="bold" font-style="normal" fill="#ff2000" text-anchor="middle" stroke="#ff2000" stroke-width="0.130" opacity="0.75">+</text>
<text x="389.2" y="320.3" font-size="6.5" font-weight="bold" font-style="normal" fill="#ff2000" text-anchor="middle" stroke="#ff2000" stroke-width="0.130" opacity="0.75">*</text>
<text x="414.2" y="348.8" font-size="6.5" font-weight="bold" font-style="normal" fill="#ff2000" text-anchor="middle" stroke="#ff2000" stroke-width="0.130" opacity="0.75">+</text>
<text x="414.2" y="355.4" font-size="6.5" font-weight="bold" font-style="normal" fill="#ff2000" text-anchor="middle" stroke="#ff2000" stroke-width="0.130" opacity="0.75">*</text>
<line x1="568.2" y1="303.1" x2="579" y2="303.1" stroke="#0a2eff" stroke-width="1.8"/>
<circle cx="573.6" cy="303.1" r="2.1" fill="#0a2eff"/>
<text x="585.32" y="306.8" font-size="11" font-weight="bold" font-style="normal" fill="#0a2eff" text-anchor="start" textLength="49.19" lengthAdjust="spacingAndGlyphs" stroke="#0a2eff" stroke-width="0.220" >PTH(1-34)</text>
<line x1="568.2" y1="323.5" x2="579" y2="323.5" stroke="#0a8a0a" stroke-width="1.8"/>
<path d="M573.6,320.98 L576,325.39 L571.2,325.39 Z" fill="#0a8a0a"/>
<text x="585.31" y="327.3" font-size="11" font-weight="bold" font-style="normal" fill="#0a8a0a" text-anchor="start" textLength="61.6" lengthAdjust="spacingAndGlyphs" stroke="#0a8a0a" stroke-width="0.220" >M-PTH(1-14)</text>
<line x1="568.2" y1="344" x2="579" y2="344" stroke="#ff2000" stroke-width="1.8"/>
<rect x="571.5" y="341.9" width="4.2" height="4.2" fill="#ff2000"/>
<text x="585.31" y="347.9" font-size="11" font-weight="bold" font-style="normal" fill="#ff2000" text-anchor="start" textLength="90.38" lengthAdjust="spacingAndGlyphs" stroke="#ff2000" stroke-width="0.220" >Palm-M-PTH(1-14)</text>
</g>
</svg>
</body></html>
